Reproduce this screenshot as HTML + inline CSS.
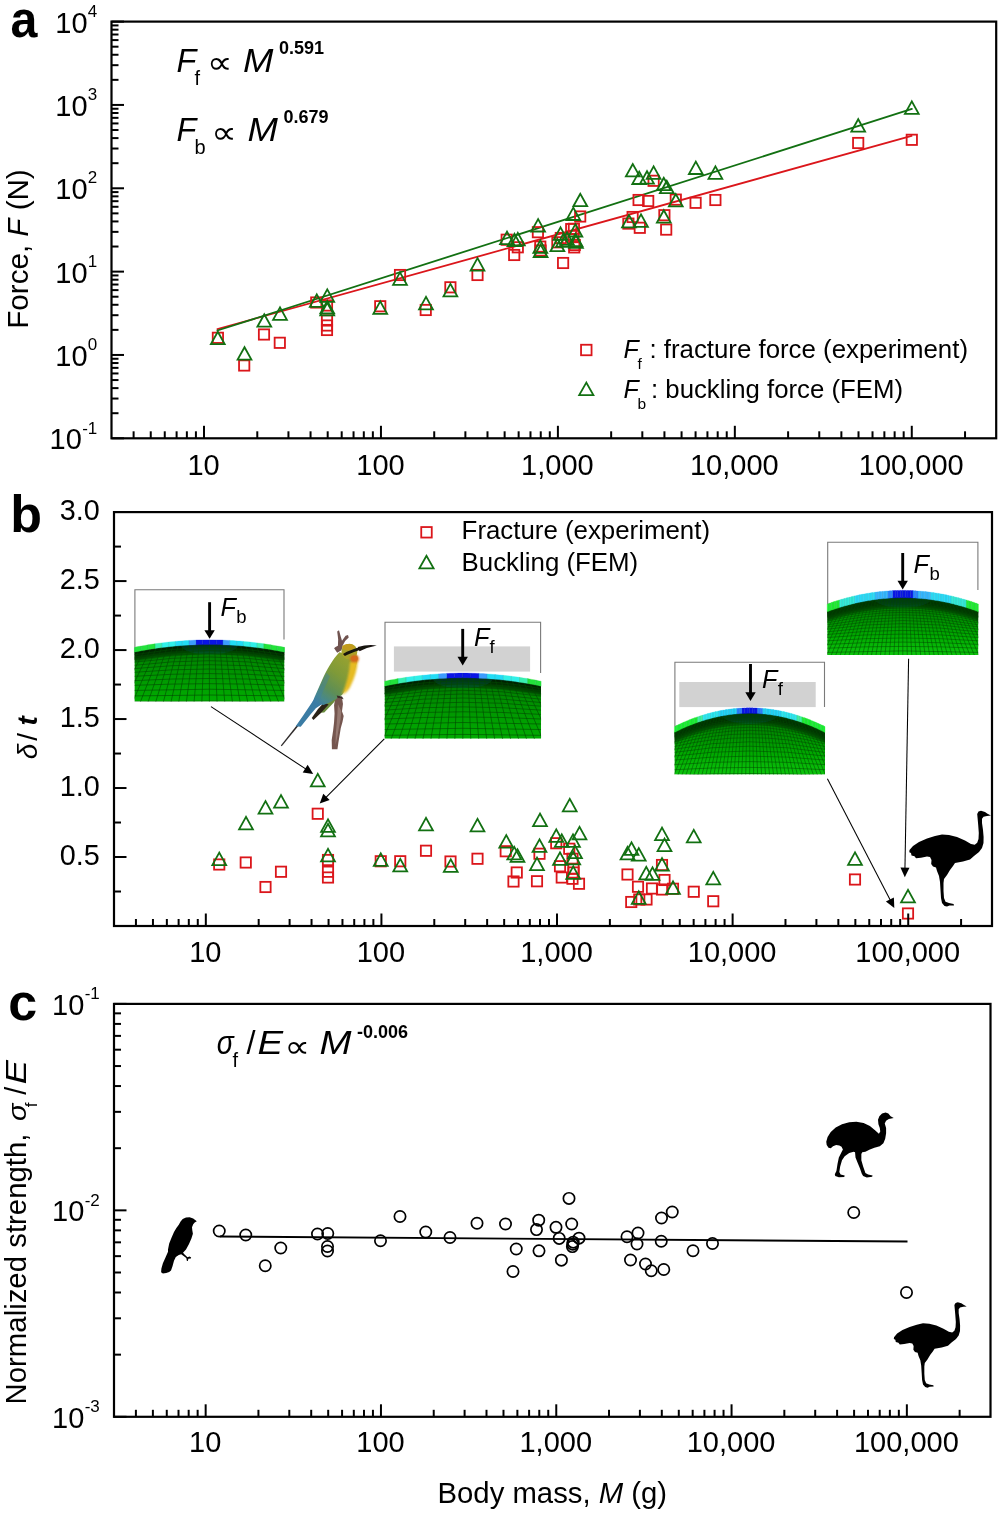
<!DOCTYPE html>
<html lang="en"><head><meta charset="utf-8"><title>Eggshell scaling figure</title>
<style>html,body{margin:0;padding:0;background:#fff}svg{display:block;will-change:transform}text{font-family:"Liberation Sans", "DejaVu Sans", sans-serif;fill:#000}.i{font-style:italic}.b{font-weight:bold}</style>
</head><body>
<svg width="1000" height="1514" viewBox="0 0 1000 1514">
<rect width="1000" height="1514" fill="#fff"/>
<g id="panelA">
<line x1="217.4" y1="329.1" x2="911.6" y2="135.9" stroke="#db161b" stroke-width="1.8" stroke-linecap="round"/>
<line x1="217.4" y1="330.5" x2="911.9" y2="108.9" stroke="#127012" stroke-width="1.8" stroke-linecap="round"/>
<rect x="212.75" y="332.65" width="10.3" height="10.3" fill="none" stroke="#db161b" stroke-width="1.8"/>
<rect x="239.05" y="360.35" width="10.3" height="10.3" fill="none" stroke="#db161b" stroke-width="1.8"/>
<rect x="258.85" y="329.35" width="10.3" height="10.3" fill="none" stroke="#db161b" stroke-width="1.8"/>
<rect x="274.65" y="337.65" width="10.3" height="10.3" fill="none" stroke="#db161b" stroke-width="1.8"/>
<rect x="311.10" y="297.35" width="10.3" height="10.3" fill="none" stroke="#db161b" stroke-width="1.8"/>
<rect x="321.85" y="300.35" width="10.3" height="10.3" fill="none" stroke="#db161b" stroke-width="1.8"/>
<rect x="321.85" y="315.35" width="10.3" height="10.3" fill="none" stroke="#db161b" stroke-width="1.8"/>
<rect x="321.85" y="320.35" width="10.3" height="10.3" fill="none" stroke="#db161b" stroke-width="1.8"/>
<rect x="321.85" y="324.85" width="10.3" height="10.3" fill="none" stroke="#db161b" stroke-width="1.8"/>
<rect x="375.10" y="301.10" width="10.3" height="10.3" fill="none" stroke="#db161b" stroke-width="1.8"/>
<rect x="394.85" y="269.85" width="10.3" height="10.3" fill="none" stroke="#db161b" stroke-width="1.8"/>
<rect x="420.60" y="304.85" width="10.3" height="10.3" fill="none" stroke="#db161b" stroke-width="1.8"/>
<rect x="445.25" y="282.15" width="10.3" height="10.3" fill="none" stroke="#db161b" stroke-width="1.8"/>
<rect x="472.35" y="269.85" width="10.3" height="10.3" fill="none" stroke="#db161b" stroke-width="1.8"/>
<rect x="501.55" y="234.55" width="10.3" height="10.3" fill="none" stroke="#db161b" stroke-width="1.8"/>
<rect x="509.05" y="249.85" width="10.3" height="10.3" fill="none" stroke="#db161b" stroke-width="1.8"/>
<rect x="512.65" y="242.15" width="10.3" height="10.3" fill="none" stroke="#db161b" stroke-width="1.8"/>
<rect x="532.75" y="227.05" width="10.3" height="10.3" fill="none" stroke="#db161b" stroke-width="1.8"/>
<rect x="535.15" y="241.45" width="10.3" height="10.3" fill="none" stroke="#db161b" stroke-width="1.8"/>
<rect x="535.45" y="245.35" width="10.3" height="10.3" fill="none" stroke="#db161b" stroke-width="1.8"/>
<rect x="552.25" y="237.15" width="10.3" height="10.3" fill="none" stroke="#db161b" stroke-width="1.8"/>
<rect x="555.65" y="232.85" width="10.3" height="10.3" fill="none" stroke="#db161b" stroke-width="1.8"/>
<rect x="557.95" y="257.85" width="10.3" height="10.3" fill="none" stroke="#db161b" stroke-width="1.8"/>
<rect x="566.05" y="223.95" width="10.3" height="10.3" fill="none" stroke="#db161b" stroke-width="1.8"/>
<rect x="568.75" y="223.65" width="10.3" height="10.3" fill="none" stroke="#db161b" stroke-width="1.8"/>
<rect x="569.05" y="242.25" width="10.3" height="10.3" fill="none" stroke="#db161b" stroke-width="1.8"/>
<rect x="569.65" y="239.85" width="10.3" height="10.3" fill="none" stroke="#db161b" stroke-width="1.8"/>
<rect x="575.05" y="211.35" width="10.3" height="10.3" fill="none" stroke="#db161b" stroke-width="1.8"/>
<rect x="568.35" y="230.85" width="10.3" height="10.3" fill="none" stroke="#db161b" stroke-width="1.8"/>
<rect x="623.25" y="218.45" width="10.3" height="10.3" fill="none" stroke="#db161b" stroke-width="1.8"/>
<rect x="627.45" y="211.85" width="10.3" height="10.3" fill="none" stroke="#db161b" stroke-width="1.8"/>
<rect x="634.65" y="222.65" width="10.3" height="10.3" fill="none" stroke="#db161b" stroke-width="1.8"/>
<rect x="633.45" y="194.85" width="10.3" height="10.3" fill="none" stroke="#db161b" stroke-width="1.8"/>
<rect x="643.05" y="195.85" width="10.3" height="10.3" fill="none" stroke="#db161b" stroke-width="1.8"/>
<rect x="648.45" y="175.65" width="10.3" height="10.3" fill="none" stroke="#db161b" stroke-width="1.8"/>
<rect x="659.25" y="210.05" width="10.3" height="10.3" fill="none" stroke="#db161b" stroke-width="1.8"/>
<rect x="661.05" y="224.45" width="10.3" height="10.3" fill="none" stroke="#db161b" stroke-width="1.8"/>
<rect x="670.65" y="194.45" width="10.3" height="10.3" fill="none" stroke="#db161b" stroke-width="1.8"/>
<rect x="690.45" y="197.65" width="10.3" height="10.3" fill="none" stroke="#db161b" stroke-width="1.8"/>
<rect x="710.25" y="194.85" width="10.3" height="10.3" fill="none" stroke="#db161b" stroke-width="1.8"/>
<rect x="853.05" y="137.85" width="10.3" height="10.3" fill="none" stroke="#db161b" stroke-width="1.8"/>
<rect x="906.65" y="134.65" width="10.3" height="10.3" fill="none" stroke="#db161b" stroke-width="1.8"/>
<path d="M217.80 331.70L210.90 344.10L224.70 344.10Z" fill="none" stroke="#127012" stroke-width="1.8" stroke-linejoin="miter"/>
<path d="M244.50 347.20L237.60 359.60L251.40 359.60Z" fill="none" stroke="#127012" stroke-width="1.8" stroke-linejoin="miter"/>
<path d="M264.30 314.30L257.40 326.70L271.20 326.70Z" fill="none" stroke="#127012" stroke-width="1.8" stroke-linejoin="miter"/>
<path d="M280.00 307.40L273.10 319.80L286.90 319.80Z" fill="none" stroke="#127012" stroke-width="1.8" stroke-linejoin="miter"/>
<path d="M316.75 294.40L309.85 306.80L323.65 306.80Z" fill="none" stroke="#127012" stroke-width="1.8" stroke-linejoin="miter"/>
<path d="M327.25 289.40L320.35 301.80L334.15 301.80Z" fill="none" stroke="#127012" stroke-width="1.8" stroke-linejoin="miter"/>
<path d="M327.25 300.90L320.35 313.30L334.15 313.30Z" fill="none" stroke="#127012" stroke-width="1.8" stroke-linejoin="miter"/>
<path d="M327.25 302.90L320.35 315.30L334.15 315.30Z" fill="none" stroke="#127012" stroke-width="1.8" stroke-linejoin="miter"/>
<path d="M380.25 301.40L373.35 313.80L387.15 313.80Z" fill="none" stroke="#127012" stroke-width="1.8" stroke-linejoin="miter"/>
<path d="M400.00 272.40L393.10 284.80L406.90 284.80Z" fill="none" stroke="#127012" stroke-width="1.8" stroke-linejoin="miter"/>
<path d="M426.00 296.90L419.10 309.30L432.90 309.30Z" fill="none" stroke="#127012" stroke-width="1.8" stroke-linejoin="miter"/>
<path d="M450.40 283.90L443.50 296.30L457.30 296.30Z" fill="none" stroke="#127012" stroke-width="1.8" stroke-linejoin="miter"/>
<path d="M477.50 258.15L470.60 270.55L484.40 270.55Z" fill="none" stroke="#127012" stroke-width="1.8" stroke-linejoin="miter"/>
<path d="M507.00 231.70L500.10 244.10L513.90 244.10Z" fill="none" stroke="#127012" stroke-width="1.8" stroke-linejoin="miter"/>
<path d="M514.50 233.80L507.60 246.20L521.40 246.20Z" fill="none" stroke="#127012" stroke-width="1.8" stroke-linejoin="miter"/>
<path d="M517.80 232.90L510.90 245.30L524.70 245.30Z" fill="none" stroke="#127012" stroke-width="1.8" stroke-linejoin="miter"/>
<path d="M538.10 219.10L531.20 231.50L545.00 231.50Z" fill="none" stroke="#127012" stroke-width="1.8" stroke-linejoin="miter"/>
<path d="M540.30 240.40L533.40 252.80L547.20 252.80Z" fill="none" stroke="#127012" stroke-width="1.8" stroke-linejoin="miter"/>
<path d="M540.60 244.60L533.70 257.00L547.50 257.00Z" fill="none" stroke="#127012" stroke-width="1.8" stroke-linejoin="miter"/>
<path d="M557.40 238.80L550.50 251.20L564.30 251.20Z" fill="none" stroke="#127012" stroke-width="1.8" stroke-linejoin="miter"/>
<path d="M560.50 227.40L553.60 239.80L567.40 239.80Z" fill="none" stroke="#127012" stroke-width="1.8" stroke-linejoin="miter"/>
<path d="M563.00 234.40L556.10 246.80L569.90 246.80Z" fill="none" stroke="#127012" stroke-width="1.8" stroke-linejoin="miter"/>
<path d="M573.30 207.60L566.40 220.00L580.20 220.00Z" fill="none" stroke="#127012" stroke-width="1.8" stroke-linejoin="miter"/>
<path d="M575.40 224.10L568.50 236.50L582.30 236.50Z" fill="none" stroke="#127012" stroke-width="1.8" stroke-linejoin="miter"/>
<path d="M575.40 233.70L568.50 246.10L582.30 246.10Z" fill="none" stroke="#127012" stroke-width="1.8" stroke-linejoin="miter"/>
<path d="M576.00 235.40L569.10 247.80L582.90 247.80Z" fill="none" stroke="#127012" stroke-width="1.8" stroke-linejoin="miter"/>
<path d="M567.00 232.40L560.10 244.80L573.90 244.80Z" fill="none" stroke="#127012" stroke-width="1.8" stroke-linejoin="miter"/>
<path d="M580.30 193.80L573.40 206.20L587.20 206.20Z" fill="none" stroke="#127012" stroke-width="1.8" stroke-linejoin="miter"/>
<path d="M632.80 164.00L625.90 176.40L639.70 176.40Z" fill="none" stroke="#127012" stroke-width="1.8" stroke-linejoin="miter"/>
<path d="M639.20 171.60L632.30 184.00L646.10 184.00Z" fill="none" stroke="#127012" stroke-width="1.8" stroke-linejoin="miter"/>
<path d="M647.00 171.20L640.10 183.60L653.90 183.60Z" fill="none" stroke="#127012" stroke-width="1.8" stroke-linejoin="miter"/>
<path d="M653.60 166.40L646.70 178.80L660.50 178.80Z" fill="none" stroke="#127012" stroke-width="1.8" stroke-linejoin="miter"/>
<path d="M663.80 177.80L656.90 190.20L670.70 190.20Z" fill="none" stroke="#127012" stroke-width="1.8" stroke-linejoin="miter"/>
<path d="M666.80 180.80L659.90 193.20L673.70 193.20Z" fill="none" stroke="#127012" stroke-width="1.8" stroke-linejoin="miter"/>
<path d="M675.80 194.00L668.90 206.40L682.70 206.40Z" fill="none" stroke="#127012" stroke-width="1.8" stroke-linejoin="miter"/>
<path d="M629.00 215.00L622.10 227.40L635.90 227.40Z" fill="none" stroke="#127012" stroke-width="1.8" stroke-linejoin="miter"/>
<path d="M641.00 214.40L634.10 226.80L647.90 226.80Z" fill="none" stroke="#127012" stroke-width="1.8" stroke-linejoin="miter"/>
<path d="M663.80 210.20L656.90 222.60L670.70 222.60Z" fill="none" stroke="#127012" stroke-width="1.8" stroke-linejoin="miter"/>
<path d="M695.80 161.60L688.90 174.00L702.70 174.00Z" fill="none" stroke="#127012" stroke-width="1.8" stroke-linejoin="miter"/>
<path d="M715.40 166.40L708.50 178.80L722.30 178.80Z" fill="none" stroke="#127012" stroke-width="1.8" stroke-linejoin="miter"/>
<path d="M858.20 119.20L851.30 131.60L865.10 131.60Z" fill="none" stroke="#127012" stroke-width="1.8" stroke-linejoin="miter"/>
<path d="M911.80 101.40L904.90 113.80L918.70 113.80Z" fill="none" stroke="#127012" stroke-width="1.8" stroke-linejoin="miter"/>
<rect x="111.5" y="21.6" width="884.70" height="416.70" fill="none" stroke="#000" stroke-width="2.2"/>
<line x1="133.61" y1="438.3" x2="133.61" y2="431.30" stroke="#000" stroke-width="2.0"/>
<line x1="150.75" y1="438.3" x2="150.75" y2="431.30" stroke="#000" stroke-width="2.0"/>
<line x1="164.76" y1="438.3" x2="164.76" y2="431.30" stroke="#000" stroke-width="2.0"/>
<line x1="176.61" y1="438.3" x2="176.61" y2="431.30" stroke="#000" stroke-width="2.0"/>
<line x1="186.87" y1="438.3" x2="186.87" y2="431.30" stroke="#000" stroke-width="2.0"/>
<line x1="195.92" y1="438.3" x2="195.92" y2="431.30" stroke="#000" stroke-width="2.0"/>
<line x1="204.02" y1="438.3" x2="204.02" y2="425.80" stroke="#000" stroke-width="2.0"/>
<line x1="257.28" y1="438.3" x2="257.28" y2="431.30" stroke="#000" stroke-width="2.0"/>
<line x1="288.44" y1="438.3" x2="288.44" y2="431.30" stroke="#000" stroke-width="2.0"/>
<line x1="310.55" y1="438.3" x2="310.55" y2="431.30" stroke="#000" stroke-width="2.0"/>
<line x1="327.69" y1="438.3" x2="327.69" y2="431.30" stroke="#000" stroke-width="2.0"/>
<line x1="341.70" y1="438.3" x2="341.70" y2="431.30" stroke="#000" stroke-width="2.0"/>
<line x1="353.55" y1="438.3" x2="353.55" y2="431.30" stroke="#000" stroke-width="2.0"/>
<line x1="363.81" y1="438.3" x2="363.81" y2="431.30" stroke="#000" stroke-width="2.0"/>
<line x1="372.86" y1="438.3" x2="372.86" y2="431.30" stroke="#000" stroke-width="2.0"/>
<line x1="380.96" y1="438.3" x2="380.96" y2="425.80" stroke="#000" stroke-width="2.0"/>
<line x1="434.22" y1="438.3" x2="434.22" y2="431.30" stroke="#000" stroke-width="2.0"/>
<line x1="465.38" y1="438.3" x2="465.38" y2="431.30" stroke="#000" stroke-width="2.0"/>
<line x1="487.49" y1="438.3" x2="487.49" y2="431.30" stroke="#000" stroke-width="2.0"/>
<line x1="504.63" y1="438.3" x2="504.63" y2="431.30" stroke="#000" stroke-width="2.0"/>
<line x1="518.64" y1="438.3" x2="518.64" y2="431.30" stroke="#000" stroke-width="2.0"/>
<line x1="530.49" y1="438.3" x2="530.49" y2="431.30" stroke="#000" stroke-width="2.0"/>
<line x1="540.75" y1="438.3" x2="540.75" y2="431.30" stroke="#000" stroke-width="2.0"/>
<line x1="549.80" y1="438.3" x2="549.80" y2="431.30" stroke="#000" stroke-width="2.0"/>
<line x1="557.90" y1="438.3" x2="557.90" y2="425.80" stroke="#000" stroke-width="2.0"/>
<line x1="611.16" y1="438.3" x2="611.16" y2="431.30" stroke="#000" stroke-width="2.0"/>
<line x1="642.32" y1="438.3" x2="642.32" y2="431.30" stroke="#000" stroke-width="2.0"/>
<line x1="664.43" y1="438.3" x2="664.43" y2="431.30" stroke="#000" stroke-width="2.0"/>
<line x1="681.57" y1="438.3" x2="681.57" y2="431.30" stroke="#000" stroke-width="2.0"/>
<line x1="695.58" y1="438.3" x2="695.58" y2="431.30" stroke="#000" stroke-width="2.0"/>
<line x1="707.43" y1="438.3" x2="707.43" y2="431.30" stroke="#000" stroke-width="2.0"/>
<line x1="717.69" y1="438.3" x2="717.69" y2="431.30" stroke="#000" stroke-width="2.0"/>
<line x1="726.74" y1="438.3" x2="726.74" y2="431.30" stroke="#000" stroke-width="2.0"/>
<line x1="734.84" y1="438.3" x2="734.84" y2="425.80" stroke="#000" stroke-width="2.0"/>
<line x1="788.10" y1="438.3" x2="788.10" y2="431.30" stroke="#000" stroke-width="2.0"/>
<line x1="819.26" y1="438.3" x2="819.26" y2="431.30" stroke="#000" stroke-width="2.0"/>
<line x1="841.37" y1="438.3" x2="841.37" y2="431.30" stroke="#000" stroke-width="2.0"/>
<line x1="858.51" y1="438.3" x2="858.51" y2="431.30" stroke="#000" stroke-width="2.0"/>
<line x1="872.52" y1="438.3" x2="872.52" y2="431.30" stroke="#000" stroke-width="2.0"/>
<line x1="884.37" y1="438.3" x2="884.37" y2="431.30" stroke="#000" stroke-width="2.0"/>
<line x1="894.63" y1="438.3" x2="894.63" y2="431.30" stroke="#000" stroke-width="2.0"/>
<line x1="903.68" y1="438.3" x2="903.68" y2="431.30" stroke="#000" stroke-width="2.0"/>
<line x1="911.78" y1="438.3" x2="911.78" y2="425.80" stroke="#000" stroke-width="2.0"/>
<line x1="965.04" y1="438.3" x2="965.04" y2="431.30" stroke="#000" stroke-width="2.0"/>
<text x="203.52" y="474.50" font-size="29" text-anchor="middle">10</text>
<text x="380.46" y="474.50" font-size="29" text-anchor="middle">100</text>
<text x="557.40" y="474.50" font-size="29" text-anchor="middle">1,000</text>
<text x="734.34" y="474.50" font-size="29" text-anchor="middle">10,000</text>
<text x="911.28" y="474.50" font-size="29" text-anchor="middle">100,000</text>
<line x1="111.5" y1="438.30" x2="124.00" y2="438.30" stroke="#000" stroke-width="2.0"/>
<line x1="111.5" y1="413.21" x2="118.50" y2="413.21" stroke="#000" stroke-width="2.0"/>
<line x1="111.5" y1="398.54" x2="118.50" y2="398.54" stroke="#000" stroke-width="2.0"/>
<line x1="111.5" y1="388.12" x2="118.50" y2="388.12" stroke="#000" stroke-width="2.0"/>
<line x1="111.5" y1="380.05" x2="118.50" y2="380.05" stroke="#000" stroke-width="2.0"/>
<line x1="111.5" y1="373.45" x2="118.50" y2="373.45" stroke="#000" stroke-width="2.0"/>
<line x1="111.5" y1="367.87" x2="118.50" y2="367.87" stroke="#000" stroke-width="2.0"/>
<line x1="111.5" y1="363.04" x2="118.50" y2="363.04" stroke="#000" stroke-width="2.0"/>
<line x1="111.5" y1="358.77" x2="118.50" y2="358.77" stroke="#000" stroke-width="2.0"/>
<text x="97.30" y="433.50" font-size="17" text-anchor="end">-1</text>
<text x="81.89" y="449.30" font-size="29" text-anchor="end">10</text>
<line x1="111.5" y1="354.96" x2="124.00" y2="354.96" stroke="#000" stroke-width="2.0"/>
<line x1="111.5" y1="329.87" x2="118.50" y2="329.87" stroke="#000" stroke-width="2.0"/>
<line x1="111.5" y1="315.20" x2="118.50" y2="315.20" stroke="#000" stroke-width="2.0"/>
<line x1="111.5" y1="304.78" x2="118.50" y2="304.78" stroke="#000" stroke-width="2.0"/>
<line x1="111.5" y1="296.71" x2="118.50" y2="296.71" stroke="#000" stroke-width="2.0"/>
<line x1="111.5" y1="290.11" x2="118.50" y2="290.11" stroke="#000" stroke-width="2.0"/>
<line x1="111.5" y1="284.53" x2="118.50" y2="284.53" stroke="#000" stroke-width="2.0"/>
<line x1="111.5" y1="279.70" x2="118.50" y2="279.70" stroke="#000" stroke-width="2.0"/>
<line x1="111.5" y1="275.43" x2="118.50" y2="275.43" stroke="#000" stroke-width="2.0"/>
<text x="97.30" y="350.16" font-size="17" text-anchor="end">0</text>
<text x="87.55" y="365.96" font-size="29" text-anchor="end">10</text>
<line x1="111.5" y1="271.62" x2="124.00" y2="271.62" stroke="#000" stroke-width="2.0"/>
<line x1="111.5" y1="246.53" x2="118.50" y2="246.53" stroke="#000" stroke-width="2.0"/>
<line x1="111.5" y1="231.86" x2="118.50" y2="231.86" stroke="#000" stroke-width="2.0"/>
<line x1="111.5" y1="221.44" x2="118.50" y2="221.44" stroke="#000" stroke-width="2.0"/>
<line x1="111.5" y1="213.37" x2="118.50" y2="213.37" stroke="#000" stroke-width="2.0"/>
<line x1="111.5" y1="206.77" x2="118.50" y2="206.77" stroke="#000" stroke-width="2.0"/>
<line x1="111.5" y1="201.19" x2="118.50" y2="201.19" stroke="#000" stroke-width="2.0"/>
<line x1="111.5" y1="196.36" x2="118.50" y2="196.36" stroke="#000" stroke-width="2.0"/>
<line x1="111.5" y1="192.09" x2="118.50" y2="192.09" stroke="#000" stroke-width="2.0"/>
<text x="97.30" y="266.82" font-size="17" text-anchor="end">1</text>
<text x="87.55" y="282.62" font-size="29" text-anchor="end">10</text>
<line x1="111.5" y1="188.28" x2="124.00" y2="188.28" stroke="#000" stroke-width="2.0"/>
<line x1="111.5" y1="163.19" x2="118.50" y2="163.19" stroke="#000" stroke-width="2.0"/>
<line x1="111.5" y1="148.52" x2="118.50" y2="148.52" stroke="#000" stroke-width="2.0"/>
<line x1="111.5" y1="138.10" x2="118.50" y2="138.10" stroke="#000" stroke-width="2.0"/>
<line x1="111.5" y1="130.03" x2="118.50" y2="130.03" stroke="#000" stroke-width="2.0"/>
<line x1="111.5" y1="123.43" x2="118.50" y2="123.43" stroke="#000" stroke-width="2.0"/>
<line x1="111.5" y1="117.85" x2="118.50" y2="117.85" stroke="#000" stroke-width="2.0"/>
<line x1="111.5" y1="113.02" x2="118.50" y2="113.02" stroke="#000" stroke-width="2.0"/>
<line x1="111.5" y1="108.75" x2="118.50" y2="108.75" stroke="#000" stroke-width="2.0"/>
<text x="97.30" y="183.48" font-size="17" text-anchor="end">2</text>
<text x="87.55" y="199.28" font-size="29" text-anchor="end">10</text>
<line x1="111.5" y1="104.94" x2="124.00" y2="104.94" stroke="#000" stroke-width="2.0"/>
<line x1="111.5" y1="79.85" x2="118.50" y2="79.85" stroke="#000" stroke-width="2.0"/>
<line x1="111.5" y1="65.18" x2="118.50" y2="65.18" stroke="#000" stroke-width="2.0"/>
<line x1="111.5" y1="54.76" x2="118.50" y2="54.76" stroke="#000" stroke-width="2.0"/>
<line x1="111.5" y1="46.69" x2="118.50" y2="46.69" stroke="#000" stroke-width="2.0"/>
<line x1="111.5" y1="40.09" x2="118.50" y2="40.09" stroke="#000" stroke-width="2.0"/>
<line x1="111.5" y1="34.51" x2="118.50" y2="34.51" stroke="#000" stroke-width="2.0"/>
<line x1="111.5" y1="29.68" x2="118.50" y2="29.68" stroke="#000" stroke-width="2.0"/>
<line x1="111.5" y1="25.41" x2="118.50" y2="25.41" stroke="#000" stroke-width="2.0"/>
<text x="97.30" y="100.14" font-size="17" text-anchor="end">3</text>
<text x="87.55" y="115.94" font-size="29" text-anchor="end">10</text>
<line x1="111.5" y1="21.60" x2="124.00" y2="21.60" stroke="#000" stroke-width="2.0"/>
<text x="97.30" y="16.80" font-size="17" text-anchor="end">4</text>
<text x="87.55" y="32.60" font-size="29" text-anchor="end">10</text>
<text transform="translate(28.4,249) rotate(-90)" font-size="29.6" text-anchor="middle">Force, <tspan class="i">F</tspan> (N)</text>
<text transform="translate(10.6,37.4) scale(0.93,1)" font-size="52" class="b">a</text>
<text x="176.5" y="72.1" font-size="32.4" class="i">F</text>
<text x="194.6" y="84.5" font-size="20">f</text>
<text transform="translate(206.9,73.3) scale(1.15,1)" font-size="31">∝</text>
<text x="243" y="72.1" font-size="32.4" class="i" textLength="30.4" lengthAdjust="spacingAndGlyphs">M</text>
<text x="279" y="53.99999999999999" font-size="18" class="b">0.591</text>
<text x="176.5" y="141.3" font-size="32.4" class="i">F</text>
<text x="194.6" y="153.70000000000002" font-size="20">b</text>
<text transform="translate(211.3,142.5) scale(1.15,1)" font-size="31">∝</text>
<text x="247.5" y="141.3" font-size="32.4" class="i" textLength="30.4" lengthAdjust="spacingAndGlyphs">M</text>
<text x="283.5" y="123.20000000000002" font-size="18" class="b">0.679</text>
<rect x="581.05" y="344.75" width="10.5" height="10.5" fill="none" stroke="#db161b" stroke-width="1.8"/>
<path d="M586.30 382.60L579.20 395.10L593.40 395.10Z" fill="none" stroke="#127012" stroke-width="1.8" stroke-linejoin="miter"/>
<text x="623.6" y="358.3" font-size="25"><tspan class="i">F</tspan></text><text x="637.6" y="368.6" font-size="15.5">f</text><text x="649.4" y="358.3" font-size="25" textLength="318.6" lengthAdjust="spacingAndGlyphs">: fracture force (experiment)</text>
<text x="623.6" y="398.2" font-size="25"><tspan class="i">F</tspan></text><text x="637.6" y="408.6" font-size="15.5">b</text><text x="651" y="398.2" font-size="25" textLength="252" lengthAdjust="spacingAndGlyphs">: buckling force (FEM)</text>
</g>
<g id="panelB">
<rect x="214.10" y="859.35" width="10.3" height="10.3" fill="none" stroke="#db161b" stroke-width="1.8"/>
<rect x="240.60" y="857.35" width="10.3" height="10.3" fill="none" stroke="#db161b" stroke-width="1.8"/>
<rect x="260.35" y="881.85" width="10.3" height="10.3" fill="none" stroke="#db161b" stroke-width="1.8"/>
<rect x="275.85" y="866.60" width="10.3" height="10.3" fill="none" stroke="#db161b" stroke-width="1.8"/>
<rect x="312.60" y="808.60" width="10.3" height="10.3" fill="none" stroke="#db161b" stroke-width="1.8"/>
<rect x="322.85" y="854.85" width="10.3" height="10.3" fill="none" stroke="#db161b" stroke-width="1.8"/>
<rect x="322.85" y="866.60" width="10.3" height="10.3" fill="none" stroke="#db161b" stroke-width="1.8"/>
<rect x="322.85" y="872.35" width="10.3" height="10.3" fill="none" stroke="#db161b" stroke-width="1.8"/>
<rect x="375.60" y="856.10" width="10.3" height="10.3" fill="none" stroke="#db161b" stroke-width="1.8"/>
<rect x="395.10" y="856.10" width="10.3" height="10.3" fill="none" stroke="#db161b" stroke-width="1.8"/>
<rect x="420.85" y="845.60" width="10.3" height="10.3" fill="none" stroke="#db161b" stroke-width="1.8"/>
<rect x="445.35" y="856.35" width="10.3" height="10.3" fill="none" stroke="#db161b" stroke-width="1.8"/>
<rect x="472.35" y="853.60" width="10.3" height="10.3" fill="none" stroke="#db161b" stroke-width="1.8"/>
<rect x="500.60" y="846.10" width="10.3" height="10.3" fill="none" stroke="#db161b" stroke-width="1.8"/>
<rect x="508.35" y="876.35" width="10.3" height="10.3" fill="none" stroke="#db161b" stroke-width="1.8"/>
<rect x="511.60" y="867.35" width="10.3" height="10.3" fill="none" stroke="#db161b" stroke-width="1.8"/>
<rect x="531.85" y="876.10" width="10.3" height="10.3" fill="none" stroke="#db161b" stroke-width="1.8"/>
<rect x="534.35" y="848.60" width="10.3" height="10.3" fill="none" stroke="#db161b" stroke-width="1.8"/>
<rect x="551.10" y="838.10" width="10.3" height="10.3" fill="none" stroke="#db161b" stroke-width="1.8"/>
<rect x="554.85" y="861.10" width="10.3" height="10.3" fill="none" stroke="#db161b" stroke-width="1.8"/>
<rect x="556.60" y="872.35" width="10.3" height="10.3" fill="none" stroke="#db161b" stroke-width="1.8"/>
<rect x="564.10" y="843.60" width="10.3" height="10.3" fill="none" stroke="#db161b" stroke-width="1.8"/>
<rect x="567.35" y="853.60" width="10.3" height="10.3" fill="none" stroke="#db161b" stroke-width="1.8"/>
<rect x="568.35" y="863.60" width="10.3" height="10.3" fill="none" stroke="#db161b" stroke-width="1.8"/>
<rect x="568.35" y="867.35" width="10.3" height="10.3" fill="none" stroke="#db161b" stroke-width="1.8"/>
<rect x="567.35" y="873.60" width="10.3" height="10.3" fill="none" stroke="#db161b" stroke-width="1.8"/>
<rect x="573.85" y="878.60" width="10.3" height="10.3" fill="none" stroke="#db161b" stroke-width="1.8"/>
<rect x="622.35" y="869.35" width="10.3" height="10.3" fill="none" stroke="#db161b" stroke-width="1.8"/>
<rect x="626.10" y="896.85" width="10.3" height="10.3" fill="none" stroke="#db161b" stroke-width="1.8"/>
<rect x="632.85" y="881.60" width="10.3" height="10.3" fill="none" stroke="#db161b" stroke-width="1.8"/>
<rect x="634.10" y="894.35" width="10.3" height="10.3" fill="none" stroke="#db161b" stroke-width="1.8"/>
<rect x="641.35" y="894.35" width="10.3" height="10.3" fill="none" stroke="#db161b" stroke-width="1.8"/>
<rect x="646.85" y="883.35" width="10.3" height="10.3" fill="none" stroke="#db161b" stroke-width="1.8"/>
<rect x="656.85" y="859.85" width="10.3" height="10.3" fill="none" stroke="#db161b" stroke-width="1.8"/>
<rect x="656.85" y="884.35" width="10.3" height="10.3" fill="none" stroke="#db161b" stroke-width="1.8"/>
<rect x="659.35" y="874.85" width="10.3" height="10.3" fill="none" stroke="#db161b" stroke-width="1.8"/>
<rect x="667.85" y="883.60" width="10.3" height="10.3" fill="none" stroke="#db161b" stroke-width="1.8"/>
<rect x="688.60" y="886.60" width="10.3" height="10.3" fill="none" stroke="#db161b" stroke-width="1.8"/>
<rect x="708.10" y="896.10" width="10.3" height="10.3" fill="none" stroke="#db161b" stroke-width="1.8"/>
<rect x="849.85" y="874.35" width="10.3" height="10.3" fill="none" stroke="#db161b" stroke-width="1.8"/>
<rect x="902.85" y="908.35" width="10.3" height="10.3" fill="none" stroke="#db161b" stroke-width="1.8"/>
<path d="M219.25 852.65L212.35 865.05L226.15 865.05Z" fill="none" stroke="#127012" stroke-width="1.8" stroke-linejoin="miter"/>
<path d="M246.00 816.90L239.10 829.30L252.90 829.30Z" fill="none" stroke="#127012" stroke-width="1.8" stroke-linejoin="miter"/>
<path d="M265.50 801.15L258.60 813.55L272.40 813.55Z" fill="none" stroke="#127012" stroke-width="1.8" stroke-linejoin="miter"/>
<path d="M281.00 795.15L274.10 807.55L287.90 807.55Z" fill="none" stroke="#127012" stroke-width="1.8" stroke-linejoin="miter"/>
<path d="M317.75 773.90L310.85 786.30L324.65 786.30Z" fill="none" stroke="#127012" stroke-width="1.8" stroke-linejoin="miter"/>
<path d="M328.00 819.40L321.10 831.80L334.90 831.80Z" fill="none" stroke="#127012" stroke-width="1.8" stroke-linejoin="miter"/>
<path d="M328.00 823.90L321.10 836.30L334.90 836.30Z" fill="none" stroke="#127012" stroke-width="1.8" stroke-linejoin="miter"/>
<path d="M328.00 848.90L321.10 861.30L334.90 861.30Z" fill="none" stroke="#127012" stroke-width="1.8" stroke-linejoin="miter"/>
<path d="M380.75 853.40L373.85 865.80L387.65 865.80Z" fill="none" stroke="#127012" stroke-width="1.8" stroke-linejoin="miter"/>
<path d="M400.25 858.90L393.35 871.30L407.15 871.30Z" fill="none" stroke="#127012" stroke-width="1.8" stroke-linejoin="miter"/>
<path d="M426.00 817.90L419.10 830.30L432.90 830.30Z" fill="none" stroke="#127012" stroke-width="1.8" stroke-linejoin="miter"/>
<path d="M450.75 859.40L443.85 871.80L457.65 871.80Z" fill="none" stroke="#127012" stroke-width="1.8" stroke-linejoin="miter"/>
<path d="M477.50 818.90L470.60 831.30L484.40 831.30Z" fill="none" stroke="#127012" stroke-width="1.8" stroke-linejoin="miter"/>
<path d="M506.25 835.15L499.35 847.55L513.15 847.55Z" fill="none" stroke="#127012" stroke-width="1.8" stroke-linejoin="miter"/>
<path d="M514.25 846.90L507.35 859.30L521.15 859.30Z" fill="none" stroke="#127012" stroke-width="1.8" stroke-linejoin="miter"/>
<path d="M517.50 849.40L510.60 861.80L524.40 861.80Z" fill="none" stroke="#127012" stroke-width="1.8" stroke-linejoin="miter"/>
<path d="M537.00 857.65L530.10 870.05L543.90 870.05Z" fill="none" stroke="#127012" stroke-width="1.8" stroke-linejoin="miter"/>
<path d="M539.50 839.40L532.60 851.80L546.40 851.80Z" fill="none" stroke="#127012" stroke-width="1.8" stroke-linejoin="miter"/>
<path d="M540.00 813.65L533.10 826.05L546.90 826.05Z" fill="none" stroke="#127012" stroke-width="1.8" stroke-linejoin="miter"/>
<path d="M556.25 829.40L549.35 841.80L563.15 841.80Z" fill="none" stroke="#127012" stroke-width="1.8" stroke-linejoin="miter"/>
<path d="M560.00 852.40L553.10 864.80L566.90 864.80Z" fill="none" stroke="#127012" stroke-width="1.8" stroke-linejoin="miter"/>
<path d="M561.75 834.40L554.85 846.80L568.65 846.80Z" fill="none" stroke="#127012" stroke-width="1.8" stroke-linejoin="miter"/>
<path d="M569.75 798.90L562.85 811.30L576.65 811.30Z" fill="none" stroke="#127012" stroke-width="1.8" stroke-linejoin="miter"/>
<path d="M573.00 834.40L566.10 846.80L579.90 846.80Z" fill="none" stroke="#127012" stroke-width="1.8" stroke-linejoin="miter"/>
<path d="M579.50 826.90L572.60 839.30L586.40 839.30Z" fill="none" stroke="#127012" stroke-width="1.8" stroke-linejoin="miter"/>
<path d="M575.00 845.65L568.10 858.05L581.90 858.05Z" fill="none" stroke="#127012" stroke-width="1.8" stroke-linejoin="miter"/>
<path d="M573.25 851.90L566.35 864.30L580.15 864.30Z" fill="none" stroke="#127012" stroke-width="1.8" stroke-linejoin="miter"/>
<path d="M573.25 866.40L566.35 878.80L580.15 878.80Z" fill="none" stroke="#127012" stroke-width="1.8" stroke-linejoin="miter"/>
<path d="M627.50 846.90L620.60 859.30L634.40 859.30Z" fill="none" stroke="#127012" stroke-width="1.8" stroke-linejoin="miter"/>
<path d="M631.50 842.40L624.60 854.80L638.40 854.80Z" fill="none" stroke="#127012" stroke-width="1.8" stroke-linejoin="miter"/>
<path d="M638.75 848.15L631.85 860.55L645.65 860.55Z" fill="none" stroke="#127012" stroke-width="1.8" stroke-linejoin="miter"/>
<path d="M638.75 891.40L631.85 903.80L645.65 903.80Z" fill="none" stroke="#127012" stroke-width="1.8" stroke-linejoin="miter"/>
<path d="M646.25 866.90L639.35 879.30L653.15 879.30Z" fill="none" stroke="#127012" stroke-width="1.8" stroke-linejoin="miter"/>
<path d="M652.50 867.40L645.60 879.80L659.40 879.80Z" fill="none" stroke="#127012" stroke-width="1.8" stroke-linejoin="miter"/>
<path d="M662.00 827.65L655.10 840.05L668.90 840.05Z" fill="none" stroke="#127012" stroke-width="1.8" stroke-linejoin="miter"/>
<path d="M662.00 858.15L655.10 870.55L668.90 870.55Z" fill="none" stroke="#127012" stroke-width="1.8" stroke-linejoin="miter"/>
<path d="M664.50 838.65L657.60 851.05L671.40 851.05Z" fill="none" stroke="#127012" stroke-width="1.8" stroke-linejoin="miter"/>
<path d="M673.00 881.40L666.10 893.80L679.90 893.80Z" fill="none" stroke="#127012" stroke-width="1.8" stroke-linejoin="miter"/>
<path d="M693.75 829.90L686.85 842.30L700.65 842.30Z" fill="none" stroke="#127012" stroke-width="1.8" stroke-linejoin="miter"/>
<path d="M713.25 871.90L706.35 884.30L720.15 884.30Z" fill="none" stroke="#127012" stroke-width="1.8" stroke-linejoin="miter"/>
<path d="M855.00 852.40L848.10 864.80L861.90 864.80Z" fill="none" stroke="#127012" stroke-width="1.8" stroke-linejoin="miter"/>
<path d="M908.00 889.90L901.10 902.30L914.90 902.30Z" fill="none" stroke="#127012" stroke-width="1.8" stroke-linejoin="miter"/>
<rect x="114.0" y="512.1" width="878.00" height="413.90" fill="none" stroke="#000" stroke-width="2.2"/>
<line x1="135.94" y1="926.0" x2="135.94" y2="919.00" stroke="#000" stroke-width="2.0"/>
<line x1="152.96" y1="926.0" x2="152.96" y2="919.00" stroke="#000" stroke-width="2.0"/>
<line x1="166.86" y1="926.0" x2="166.86" y2="919.00" stroke="#000" stroke-width="2.0"/>
<line x1="178.62" y1="926.0" x2="178.62" y2="919.00" stroke="#000" stroke-width="2.0"/>
<line x1="188.80" y1="926.0" x2="188.80" y2="919.00" stroke="#000" stroke-width="2.0"/>
<line x1="197.78" y1="926.0" x2="197.78" y2="919.00" stroke="#000" stroke-width="2.0"/>
<line x1="205.82" y1="926.0" x2="205.82" y2="913.50" stroke="#000" stroke-width="2.0"/>
<line x1="258.68" y1="926.0" x2="258.68" y2="919.00" stroke="#000" stroke-width="2.0"/>
<line x1="289.60" y1="926.0" x2="289.60" y2="919.00" stroke="#000" stroke-width="2.0"/>
<line x1="311.54" y1="926.0" x2="311.54" y2="919.00" stroke="#000" stroke-width="2.0"/>
<line x1="328.56" y1="926.0" x2="328.56" y2="919.00" stroke="#000" stroke-width="2.0"/>
<line x1="342.46" y1="926.0" x2="342.46" y2="919.00" stroke="#000" stroke-width="2.0"/>
<line x1="354.22" y1="926.0" x2="354.22" y2="919.00" stroke="#000" stroke-width="2.0"/>
<line x1="364.40" y1="926.0" x2="364.40" y2="919.00" stroke="#000" stroke-width="2.0"/>
<line x1="373.38" y1="926.0" x2="373.38" y2="919.00" stroke="#000" stroke-width="2.0"/>
<line x1="381.42" y1="926.0" x2="381.42" y2="913.50" stroke="#000" stroke-width="2.0"/>
<line x1="434.28" y1="926.0" x2="434.28" y2="919.00" stroke="#000" stroke-width="2.0"/>
<line x1="465.20" y1="926.0" x2="465.20" y2="919.00" stroke="#000" stroke-width="2.0"/>
<line x1="487.14" y1="926.0" x2="487.14" y2="919.00" stroke="#000" stroke-width="2.0"/>
<line x1="504.16" y1="926.0" x2="504.16" y2="919.00" stroke="#000" stroke-width="2.0"/>
<line x1="518.06" y1="926.0" x2="518.06" y2="919.00" stroke="#000" stroke-width="2.0"/>
<line x1="529.82" y1="926.0" x2="529.82" y2="919.00" stroke="#000" stroke-width="2.0"/>
<line x1="540.00" y1="926.0" x2="540.00" y2="919.00" stroke="#000" stroke-width="2.0"/>
<line x1="548.98" y1="926.0" x2="548.98" y2="919.00" stroke="#000" stroke-width="2.0"/>
<line x1="557.02" y1="926.0" x2="557.02" y2="913.50" stroke="#000" stroke-width="2.0"/>
<line x1="609.88" y1="926.0" x2="609.88" y2="919.00" stroke="#000" stroke-width="2.0"/>
<line x1="640.80" y1="926.0" x2="640.80" y2="919.00" stroke="#000" stroke-width="2.0"/>
<line x1="662.74" y1="926.0" x2="662.74" y2="919.00" stroke="#000" stroke-width="2.0"/>
<line x1="679.76" y1="926.0" x2="679.76" y2="919.00" stroke="#000" stroke-width="2.0"/>
<line x1="693.66" y1="926.0" x2="693.66" y2="919.00" stroke="#000" stroke-width="2.0"/>
<line x1="705.42" y1="926.0" x2="705.42" y2="919.00" stroke="#000" stroke-width="2.0"/>
<line x1="715.60" y1="926.0" x2="715.60" y2="919.00" stroke="#000" stroke-width="2.0"/>
<line x1="724.58" y1="926.0" x2="724.58" y2="919.00" stroke="#000" stroke-width="2.0"/>
<line x1="732.62" y1="926.0" x2="732.62" y2="913.50" stroke="#000" stroke-width="2.0"/>
<line x1="785.48" y1="926.0" x2="785.48" y2="919.00" stroke="#000" stroke-width="2.0"/>
<line x1="816.40" y1="926.0" x2="816.40" y2="919.00" stroke="#000" stroke-width="2.0"/>
<line x1="838.34" y1="926.0" x2="838.34" y2="919.00" stroke="#000" stroke-width="2.0"/>
<line x1="855.36" y1="926.0" x2="855.36" y2="919.00" stroke="#000" stroke-width="2.0"/>
<line x1="869.26" y1="926.0" x2="869.26" y2="919.00" stroke="#000" stroke-width="2.0"/>
<line x1="881.02" y1="926.0" x2="881.02" y2="919.00" stroke="#000" stroke-width="2.0"/>
<line x1="891.20" y1="926.0" x2="891.20" y2="919.00" stroke="#000" stroke-width="2.0"/>
<line x1="900.18" y1="926.0" x2="900.18" y2="919.00" stroke="#000" stroke-width="2.0"/>
<line x1="908.22" y1="926.0" x2="908.22" y2="913.50" stroke="#000" stroke-width="2.0"/>
<line x1="961.08" y1="926.0" x2="961.08" y2="919.00" stroke="#000" stroke-width="2.0"/>
<text x="205.32" y="962.20" font-size="29" text-anchor="middle">10</text>
<text x="380.92" y="962.20" font-size="29" text-anchor="middle">100</text>
<text x="556.52" y="962.20" font-size="29" text-anchor="middle">1,000</text>
<text x="732.12" y="962.20" font-size="29" text-anchor="middle">10,000</text>
<text x="907.72" y="962.20" font-size="29" text-anchor="middle">100,000</text>
<line x1="114.0" y1="891.51" x2="121.00" y2="891.51" stroke="#000" stroke-width="2.0"/>
<line x1="114.0" y1="857.02" x2="126.50" y2="857.02" stroke="#000" stroke-width="2.0"/>
<line x1="114.0" y1="822.52" x2="121.00" y2="822.52" stroke="#000" stroke-width="2.0"/>
<line x1="114.0" y1="788.03" x2="126.50" y2="788.03" stroke="#000" stroke-width="2.0"/>
<line x1="114.0" y1="753.54" x2="121.00" y2="753.54" stroke="#000" stroke-width="2.0"/>
<line x1="114.0" y1="719.05" x2="126.50" y2="719.05" stroke="#000" stroke-width="2.0"/>
<line x1="114.0" y1="684.56" x2="121.00" y2="684.56" stroke="#000" stroke-width="2.0"/>
<line x1="114.0" y1="650.07" x2="126.50" y2="650.07" stroke="#000" stroke-width="2.0"/>
<line x1="114.0" y1="615.58" x2="121.00" y2="615.58" stroke="#000" stroke-width="2.0"/>
<line x1="114.0" y1="581.08" x2="126.50" y2="581.08" stroke="#000" stroke-width="2.0"/>
<line x1="114.0" y1="546.59" x2="121.00" y2="546.59" stroke="#000" stroke-width="2.0"/>
<text x="99.8" y="865.22" font-size="28.8" text-anchor="end">0.5</text>
<text x="99.8" y="796.23" font-size="28.8" text-anchor="end">1.0</text>
<text x="99.8" y="727.25" font-size="28.8" text-anchor="end">1.5</text>
<text x="99.8" y="658.27" font-size="28.8" text-anchor="end">2.0</text>
<text x="99.8" y="589.28" font-size="28.8" text-anchor="end">2.5</text>
<text x="99.8" y="520.30" font-size="28.8" text-anchor="end">3.0</text>
<g transform="translate(36.6,759.2) rotate(-90)"><text x="0" y="0" font-size="28" class="i">δ</text><text x="18.4" y="0" font-size="28">/</text><text x="33.8" y="0" font-size="28" class="i b">t</text></g>
<text x="10.2" y="531.6" font-size="52" class="b">b</text>
<rect x="421.25" y="527.05" width="10.5" height="10.5" fill="none" stroke="#db161b" stroke-width="1.8"/>
<path d="M426.50 555.80L419.40 568.30L433.60 568.30Z" fill="none" stroke="#127012" stroke-width="1.8" stroke-linejoin="miter"/>
<text x="461.6" y="539" font-size="25.4" textLength="248.4" lengthAdjust="spacingAndGlyphs">Fracture (experiment)</text>
<text x="461.6" y="571" font-size="25.4" textLength="176.6" lengthAdjust="spacingAndGlyphs">Buckling (FEM)</text>
<clipPath id="cl1"><polygon points="134.4,651.9 140.7,650.6 146.9,649.5 153.2,648.5 159.4,647.6 165.7,646.8 171.9,646.1 178.2,645.5 184.4,645.1 190.7,644.7 196.9,644.4 203.2,644.3 209.4,644.2 215.7,644.3 222.0,644.4 228.2,644.7 234.5,645.1 240.7,645.5 247.0,646.1 253.2,646.8 259.5,647.6 265.7,648.5 272.0,649.5 278.2,650.6 284.5,651.9 284.5,701.6 134.4,701.6"/></clipPath>
<linearGradient id="gg1" gradientUnits="userSpaceOnUse" x1="0" y1="644.2" x2="0" y2="701.6"><stop offset="0" stop-color="#006a00"/><stop offset="0.35" stop-color="#008c00"/><stop offset="0.7" stop-color="#009e00"/><stop offset="1" stop-color="#00ac00"/></linearGradient>
<g clip-path="url(#cl1)">
<rect x="134.4" y="639.9" width="150.10" height="61.70" fill="url(#gg1)"/>
<polygon points="134.4,662.2 140.7,661.0 146.9,659.9 153.2,658.9 159.4,658.0 165.7,657.2 171.9,656.5 178.2,655.9 184.4,655.4 190.7,655.0 196.9,654.8 203.2,654.6 209.4,654.5 215.7,654.6 222.0,654.8 228.2,655.0 234.5,655.4 240.7,655.9 247.0,656.5 253.2,657.2 259.5,658.0 265.7,658.9 272.0,659.9 278.2,661.0 284.5,662.2 284.5,637.9 134.4,637.9" fill="#001400" fill-opacity="0.2"/>
<polygon points="134.4,661.1 140.7,659.8 146.9,658.7 153.2,657.7 159.4,656.8 165.7,656.0 171.9,655.3 178.2,654.7 184.4,654.3 190.7,653.9 196.9,653.6 203.2,653.5 209.4,653.4 215.7,653.5 222.0,653.6 228.2,653.9 234.5,654.3 240.7,654.7 247.0,655.3 253.2,656.0 259.5,656.8 265.7,657.7 272.0,658.7 278.2,659.8 284.5,661.1 284.5,637.9 134.4,637.9" fill="#001400" fill-opacity="0.2"/>
<polygon points="134.4,659.9 140.7,658.7 146.9,657.6 153.2,656.6 159.4,655.7 165.7,654.9 171.9,654.2 178.2,653.6 184.4,653.1 190.7,652.7 196.9,652.5 203.2,652.3 209.4,652.2 215.7,652.3 222.0,652.5 228.2,652.7 234.5,653.1 240.7,653.6 247.0,654.2 253.2,654.9 259.5,655.7 265.7,656.6 272.0,657.6 278.2,658.7 284.5,659.9 284.5,637.9 134.4,637.9" fill="#001400" fill-opacity="0.2"/>
<polygon points="134.4,658.8 140.7,657.5 146.9,656.4 153.2,655.4 159.4,654.5 165.7,653.7 171.9,653.0 178.2,652.4 184.4,652.0 190.7,651.6 196.9,651.3 203.2,651.2 209.4,651.1 215.7,651.2 222.0,651.3 228.2,651.6 234.5,652.0 240.7,652.4 247.0,653.0 253.2,653.7 259.5,654.5 265.7,655.4 272.0,656.4 278.2,657.5 284.5,658.8 284.5,637.9 134.4,637.9" fill="#001400" fill-opacity="0.2"/>
<polygon points="134.4,657.6 140.7,656.4 146.9,655.3 153.2,654.3 159.4,653.4 165.7,652.6 171.9,651.9 178.2,651.3 184.4,650.8 190.7,650.4 196.9,650.2 203.2,650.0 209.4,649.9 215.7,650.0 222.0,650.2 228.2,650.4 234.5,650.8 240.7,651.3 247.0,651.9 253.2,652.6 259.5,653.4 265.7,654.3 272.0,655.3 278.2,656.4 284.5,657.6 284.5,637.9 134.4,637.9" fill="#001400" fill-opacity="0.2"/>
<polygon points="134.4,656.5 140.7,655.2 146.9,654.1 153.2,653.1 159.4,652.2 165.7,651.4 171.9,650.7 178.2,650.1 184.4,649.7 190.7,649.3 196.9,649.0 203.2,648.9 209.4,648.8 215.7,648.9 222.0,649.0 228.2,649.3 234.5,649.7 240.7,650.1 247.0,650.7 253.2,651.4 259.5,652.2 265.7,653.1 272.0,654.1 278.2,655.2 284.5,656.5 284.5,637.9 134.4,637.9" fill="#001400" fill-opacity="0.2"/>
<polygon points="134.4,655.3 140.7,654.1 146.9,653.0 153.2,652.0 159.4,651.1 165.7,650.3 171.9,649.6 178.2,649.0 184.4,648.5 190.7,648.1 196.9,647.9 203.2,647.7 209.4,647.6 215.7,647.7 222.0,647.9 228.2,648.1 234.5,648.5 240.7,649.0 247.0,649.6 253.2,650.3 259.5,651.1 265.7,652.0 272.0,653.0 278.2,654.1 284.5,655.3 284.5,637.9 134.4,637.9" fill="#001400" fill-opacity="0.2"/>
<polygon points="134.4,654.2 140.7,652.9 146.9,651.8 153.2,650.8 159.4,649.9 165.7,649.1 171.9,648.4 178.2,647.8 184.4,647.4 190.7,647.0 196.9,646.7 203.2,646.6 209.4,646.5 215.7,646.6 222.0,646.7 228.2,647.0 234.5,647.4 240.7,647.8 247.0,648.4 253.2,649.1 259.5,649.9 265.7,650.8 272.0,651.8 278.2,652.9 284.5,654.2 284.5,637.9 134.4,637.9" fill="#001400" fill-opacity="0.2"/>
<polygon points="134.4,653.0 140.7,651.8 146.9,650.7 153.2,649.7 159.4,648.8 165.7,648.0 171.9,647.3 178.2,646.7 184.4,646.2 190.7,645.8 196.9,645.6 203.2,645.4 209.4,645.3 215.7,645.4 222.0,645.6 228.2,645.8 234.5,646.2 240.7,646.7 247.0,647.3 253.2,648.0 259.5,648.8 265.7,649.7 272.0,650.7 278.2,651.8 284.5,653.0 284.5,637.9 134.4,637.9" fill="#001400" fill-opacity="0.2"/>
<ellipse cx="209.4" cy="645.2" rx="28.5" ry="9.2" fill="#005858" fill-opacity="0.35"/>
<path d="M134.4 654.7Q209.4 640.7 284.5 654.7M134.4 657.0Q209.4 644.0 284.5 657.0M134.4 659.5Q209.4 647.7 284.5 659.5M134.4 662.2Q209.4 651.8 284.5 662.2M134.4 665.3Q209.4 656.1 284.5 665.3M134.4 668.6Q209.4 660.8 284.5 668.6M134.4 672.3Q209.4 665.7 284.5 672.3M134.4 676.3Q209.4 670.9 284.5 676.3M134.4 680.6Q209.4 676.4 284.5 680.6M134.4 685.3Q209.4 682.1 284.5 685.3M134.4 690.4Q209.4 688.0 284.5 690.4M134.4 695.9Q209.4 694.1 284.5 695.9M134.4 701.9Q209.4 700.3 284.5 701.9M209.4 643.2L209.4 702.6M214.5 643.2L217.1 702.6M204.3 643.2L201.8 702.6M219.6 643.2L224.8 702.6M199.2 643.2L194.0 702.6M224.8 643.2L232.5 702.6M194.1 643.2L186.3 702.6M229.8 643.2L240.2 702.6M189.0 643.2L178.6 702.6M234.9 643.2L247.9 702.6M183.9 643.2L170.9 702.6M240.0 643.2L255.6 702.6M178.8 643.2L163.2 702.6M245.1 643.2L263.3 702.6M173.8 643.2L155.5 702.6M250.2 643.2L271.1 702.6M168.6 643.2L147.8 702.6M255.3 643.2L278.8 702.6M163.5 643.2L140.1 702.6M260.4 643.2L286.4 702.6M158.4 643.2L132.4 702.6M265.5 643.2L294.1 702.6M153.3 643.2L124.7 702.6M270.6 643.2L301.9 702.6M148.2 643.2L117.0 702.6M275.8 643.2L309.6 702.6M143.1 643.2L109.3 702.6M280.8 643.2L317.2 702.6M138.1 643.2L101.6 702.6M285.9 643.2L324.9 702.6M132.9 643.2L93.9 702.6M291.0 643.2L332.6 702.6M127.8 643.2L86.2 702.6M296.1 643.2L340.4 702.6M122.8 643.2L78.5 702.6M301.2 643.2L348.0 702.6M117.6 643.2L70.8 702.6M306.3 643.2L355.8 702.6M112.5 643.2L63.1 702.6M311.4 643.2L363.4 702.6M107.4 643.2L55.4 702.6" fill="none" stroke="#004800" stroke-width="0.6"/>
</g>
<polygon points="209.4,639.9 212.8,639.9 216.2,640.0 216.2,644.6 212.8,644.5 209.4,644.5" fill="#0a14e6" stroke="#0a14e6" stroke-width="0.3"/>
<polygon points="202.6,640.0 206.0,639.9 209.4,639.9 209.4,644.5 206.0,644.5 202.6,644.6" fill="#0a14e6" stroke="#0a14e6" stroke-width="0.3"/>
<polygon points="216.2,640.0 219.6,640.0 223.0,640.1 223.0,644.8 219.6,644.6 216.2,644.6" fill="#0a14e6" stroke="#0a14e6" stroke-width="0.3"/>
<polygon points="195.8,640.1 199.2,640.0 202.6,640.0 202.6,644.6 199.2,644.6 195.8,644.8" fill="#0a14e6" stroke="#0a14e6" stroke-width="0.3"/>
<polygon points="223.0,640.1 226.4,640.3 229.8,640.4 229.8,645.1 226.4,644.9 223.0,644.8" fill="#3c9cff" stroke="#3c9cff" stroke-width="0.3"/>
<polygon points="189.0,640.4 192.4,640.3 195.8,640.1 195.8,644.8 192.4,644.9 189.0,645.1" fill="#3c9cff" stroke="#3c9cff" stroke-width="0.3"/>
<polygon points="229.8,640.4 233.2,640.6 236.6,640.9 236.6,645.5 233.2,645.3 229.8,645.1" fill="#22dcf6" stroke="#22dcf6" stroke-width="0.3"/>
<polygon points="182.2,640.9 185.6,640.6 189.0,640.4 189.0,645.1 185.6,645.3 182.2,645.5" fill="#22dcf6" stroke="#22dcf6" stroke-width="0.3"/>
<polygon points="236.6,640.9 240.0,641.1 243.4,641.4 243.4,646.1 240.0,645.8 236.6,645.5" fill="#22dcf6" stroke="#22dcf6" stroke-width="0.3"/>
<polygon points="175.4,641.4 178.8,641.1 182.2,640.9 182.2,645.5 178.8,645.8 175.4,646.1" fill="#22dcf6" stroke="#22dcf6" stroke-width="0.3"/>
<polygon points="243.4,641.4 246.8,641.7 250.2,642.1 250.2,646.8 246.8,646.4 243.4,646.1" fill="#30f0e8" stroke="#30f0e8" stroke-width="0.3"/>
<polygon points="168.6,642.1 172.0,641.7 175.4,641.4 175.4,646.1 172.0,646.4 168.6,646.8" fill="#30f0e8" stroke="#30f0e8" stroke-width="0.3"/>
<polygon points="250.2,642.1 253.7,642.5 257.1,642.9 257.1,647.6 253.7,647.2 250.2,646.8" fill="#30f0e8" stroke="#30f0e8" stroke-width="0.3"/>
<polygon points="161.8,642.9 165.2,642.5 168.6,642.1 168.6,646.8 165.2,647.2 161.8,647.6" fill="#30f0e8" stroke="#30f0e8" stroke-width="0.3"/>
<polygon points="257.1,642.9 260.4,643.3 263.8,643.8 263.8,648.5 260.4,648.0 257.1,647.6" fill="#38f0b0" stroke="#38f0b0" stroke-width="0.3"/>
<polygon points="155.0,643.8 158.4,643.3 161.8,642.9 161.8,647.6 158.4,648.0 155.0,648.5" fill="#38f0b0" stroke="#38f0b0" stroke-width="0.3"/>
<polygon points="263.8,643.8 267.2,644.3 270.6,644.8 270.6,649.6 267.2,649.0 263.8,648.5" fill="#22e23a" stroke="#22e23a" stroke-width="0.3"/>
<polygon points="148.2,644.8 151.6,644.3 155.0,643.8 155.0,648.5 151.6,649.0 148.2,649.6" fill="#22e23a" stroke="#22e23a" stroke-width="0.3"/>
<polygon points="270.6,644.8 274.0,645.4 277.4,646.0 277.4,650.8 274.0,650.2 270.6,649.6" fill="#22e23a" stroke="#22e23a" stroke-width="0.3"/>
<polygon points="141.4,646.0 144.8,645.4 148.2,644.8 148.2,649.6 144.8,650.2 141.4,650.8" fill="#22e23a" stroke="#22e23a" stroke-width="0.3"/>
<polygon points="277.4,646.0 280.9,646.6 284.2,647.3 284.2,652.1 280.9,651.4 277.4,650.8" fill="#22e23a" stroke="#22e23a" stroke-width="0.3"/>
<polygon points="134.6,647.3 138.0,646.6 141.4,646.0 141.4,650.8 138.0,651.4 134.6,652.1" fill="#22e23a" stroke="#22e23a" stroke-width="0.3"/>
<polygon points="284.2,647.3 284.4,647.3 284.5,647.3 284.5,652.2 284.4,652.1 284.2,652.1" fill="#22e23a" stroke="#22e23a" stroke-width="0.3"/>
<polygon points="134.4,647.3 134.5,647.3 134.6,647.3 134.6,652.1 134.5,652.1 134.4,652.2" fill="#22e23a" stroke="#22e23a" stroke-width="0.3"/>
<path d="M209.4 639.9V644.2M209.4 639.9V644.2M216.2 640.0V644.3M202.6 640.0V644.3M223.0 640.1V644.5M195.8 640.1V644.5M229.8 640.4V644.8M189.0 640.4V644.8M236.6 640.9V645.2M182.2 640.9V645.2M243.4 641.4V645.8M175.4 641.4V645.8M250.2 642.1V646.5M168.6 642.1V646.5M257.1 642.9V647.3M161.8 642.9V647.3M263.8 643.8V648.2M155.0 643.8V648.2M270.6 644.8V649.3M148.2 644.8V649.3M277.4 646.0V650.5M141.4 646.0V650.5M284.2 647.3V651.8M134.6 647.3V651.8" stroke="#0a4858" stroke-opacity="0.3" stroke-width="0.5" fill="none"/>
<path d="M134.90 647.30V589.70H284.00V639.50" fill="none" stroke="#7a7a7a" stroke-width="1.1"/>
<line x1="209.6" y1="602.2" x2="209.6" y2="631.80" stroke="#000" stroke-width="2.9"/>
<polygon points="204.40,630.20 214.80,630.20 209.60,638.80" fill="#000"/>
<text x="220.6" y="616.4" font-size="25.2" class="i">F</text><text x="236.2" y="622.8" font-size="18.5">b</text>
<clipPath id="cl2"><polygon points="384.5,685.9 391.0,684.5 397.6,683.3 404.1,682.2 410.6,681.2 417.1,680.3 423.6,679.6 430.2,679.0 436.7,678.4 443.2,678.0 449.8,677.7 456.3,677.6 462.8,677.5 469.3,677.6 475.9,677.7 482.4,678.0 488.9,678.4 495.4,679.0 501.9,679.6 508.5,680.3 515.0,681.2 521.5,682.2 528.1,683.3 534.6,684.5 541.1,685.9 541.1,738.7 384.5,738.7"/></clipPath>
<linearGradient id="gg2" gradientUnits="userSpaceOnUse" x1="0" y1="677.5" x2="0" y2="738.7"><stop offset="0" stop-color="#006a00"/><stop offset="0.35" stop-color="#008c00"/><stop offset="0.7" stop-color="#009e00"/><stop offset="1" stop-color="#00ac00"/></linearGradient>
<g clip-path="url(#cl2)">
<rect x="384.5" y="673.1" width="156.60" height="65.60" fill="url(#gg2)"/>
<polygon points="384.5,696.2 391.0,694.9 397.6,693.7 404.1,692.6 410.6,691.6 417.1,690.7 423.6,689.9 430.2,689.3 436.7,688.8 443.2,688.4 449.8,688.1 456.3,687.9 462.8,687.9 469.3,687.9 475.9,688.1 482.4,688.4 488.9,688.8 495.4,689.3 501.9,689.9 508.5,690.7 515.0,691.6 521.5,692.6 528.1,693.7 534.6,694.9 541.1,696.2 541.1,671.1 384.5,671.1" fill="#001400" fill-opacity="0.2"/>
<polygon points="384.5,695.1 391.0,693.7 397.6,692.5 404.1,691.4 410.6,690.4 417.1,689.5 423.6,688.8 430.2,688.2 436.7,687.6 443.2,687.2 449.8,686.9 456.3,686.8 462.8,686.7 469.3,686.8 475.9,686.9 482.4,687.2 488.9,687.6 495.4,688.2 501.9,688.8 508.5,689.5 515.0,690.4 521.5,691.4 528.1,692.5 534.6,693.7 541.1,695.1 541.1,671.1 384.5,671.1" fill="#001400" fill-opacity="0.2"/>
<polygon points="384.5,693.9 391.0,692.6 397.6,691.4 404.1,690.3 410.6,689.3 417.1,688.4 423.6,687.6 430.2,687.0 436.7,686.5 443.2,686.1 449.8,685.8 456.3,685.6 462.8,685.5 469.3,685.6 475.9,685.8 482.4,686.1 488.9,686.5 495.4,687.0 501.9,687.6 508.5,688.4 515.0,689.3 521.5,690.3 528.1,691.4 534.6,692.6 541.1,693.9 541.1,671.1 384.5,671.1" fill="#001400" fill-opacity="0.2"/>
<polygon points="384.5,692.8 391.0,691.4 397.6,690.2 404.1,689.1 410.6,688.1 417.1,687.2 423.6,686.5 430.2,685.9 436.7,685.3 443.2,684.9 449.8,684.6 456.3,684.5 462.8,684.4 469.3,684.5 475.9,684.6 482.4,684.9 488.9,685.3 495.4,685.9 501.9,686.5 508.5,687.2 515.0,688.1 521.5,689.1 528.1,690.2 534.6,691.4 541.1,692.8 541.1,671.1 384.5,671.1" fill="#001400" fill-opacity="0.2"/>
<polygon points="384.5,691.6 391.0,690.3 397.6,689.1 404.1,688.0 410.6,687.0 417.1,686.1 423.6,685.3 430.2,684.7 436.7,684.2 443.2,683.8 449.8,683.5 456.3,683.3 462.8,683.2 469.3,683.3 475.9,683.5 482.4,683.8 488.9,684.2 495.4,684.7 501.9,685.3 508.5,686.1 515.0,687.0 521.5,688.0 528.1,689.1 534.6,690.3 541.1,691.6 541.1,671.1 384.5,671.1" fill="#001400" fill-opacity="0.2"/>
<polygon points="384.5,690.5 391.0,689.1 397.6,687.9 404.1,686.8 410.6,685.8 417.1,684.9 423.6,684.2 430.2,683.6 436.7,683.0 443.2,682.6 449.8,682.3 456.3,682.2 462.8,682.1 469.3,682.2 475.9,682.3 482.4,682.6 488.9,683.0 495.4,683.6 501.9,684.2 508.5,684.9 515.0,685.8 521.5,686.8 528.1,687.9 534.6,689.1 541.1,690.5 541.1,671.1 384.5,671.1" fill="#001400" fill-opacity="0.2"/>
<polygon points="384.5,689.3 391.0,688.0 397.6,686.8 404.1,685.7 410.6,684.7 417.1,683.8 423.6,683.0 430.2,682.4 436.7,681.9 443.2,681.5 449.8,681.2 456.3,681.0 462.8,681.0 469.3,681.0 475.9,681.2 482.4,681.5 488.9,681.9 495.4,682.4 501.9,683.0 508.5,683.8 515.0,684.7 521.5,685.7 528.1,686.8 534.6,688.0 541.1,689.3 541.1,671.1 384.5,671.1" fill="#001400" fill-opacity="0.2"/>
<polygon points="384.5,688.2 391.0,686.8 397.6,685.6 404.1,684.5 410.6,683.5 417.1,682.6 423.6,681.9 430.2,681.3 436.7,680.7 443.2,680.3 449.8,680.0 456.3,679.9 462.8,679.8 469.3,679.9 475.9,680.0 482.4,680.3 488.9,680.7 495.4,681.3 501.9,681.9 508.5,682.6 515.0,683.5 521.5,684.5 528.1,685.6 534.6,686.8 541.1,688.2 541.1,671.1 384.5,671.1" fill="#001400" fill-opacity="0.2"/>
<polygon points="384.5,687.0 391.0,685.7 397.6,684.5 404.1,683.4 410.6,682.4 417.1,681.5 423.6,680.7 430.2,680.1 436.7,679.6 443.2,679.2 449.8,678.9 456.3,678.7 462.8,678.6 469.3,678.7 475.9,678.9 482.4,679.2 488.9,679.6 495.4,680.1 501.9,680.7 508.5,681.5 515.0,682.4 521.5,683.4 528.1,684.5 534.6,685.7 541.1,687.0 541.1,671.1 384.5,671.1" fill="#001400" fill-opacity="0.2"/>
<ellipse cx="462.8" cy="678.5" rx="29.8" ry="9.8" fill="#005858" fill-opacity="0.35"/>
<path d="M384.5 688.7Q462.8 673.3 541.1 688.7M384.5 690.9Q462.8 676.7 541.1 690.9M384.5 693.4Q462.8 680.4 541.1 693.4M384.5 696.2Q462.8 684.4 541.1 696.2M384.5 699.2Q462.8 688.8 541.1 699.2M384.5 702.5Q462.8 693.5 541.1 702.5M384.5 706.2Q462.8 698.4 541.1 706.2M384.5 710.1Q462.8 703.7 541.1 710.1M384.5 714.4Q462.8 709.2 541.1 714.4M384.5 719.0Q462.8 715.0 541.1 719.0M384.5 724.0Q462.8 721.0 541.1 724.0M384.5 729.5Q462.8 727.1 541.1 729.5M384.5 735.3Q462.8 733.5 541.1 735.3M462.8 676.5L462.8 739.7M468.1 676.5L470.8 739.7M457.5 676.5L454.8 739.7M473.4 676.5L478.8 739.7M452.2 676.5L446.8 739.7M478.7 676.5L486.8 739.7M446.9 676.5L438.8 739.7M484.0 676.5L494.8 739.7M441.6 676.5L430.8 739.7M489.3 676.5L502.8 739.7M436.3 676.5L422.8 739.7M494.6 676.5L510.8 739.7M431.0 676.5L414.8 739.7M499.9 676.5L518.8 739.7M425.7 676.5L406.8 739.7M505.2 676.5L526.8 739.7M420.4 676.5L398.8 739.7M510.5 676.5L534.8 739.7M415.1 676.5L390.8 739.7M515.8 676.5L542.8 739.7M409.8 676.5L382.8 739.7M521.1 676.5L550.8 739.7M404.5 676.5L374.8 739.7M526.4 676.5L558.8 739.7M399.2 676.5L366.8 739.7M531.7 676.5L566.8 739.7M393.9 676.5L358.8 739.7M537.0 676.5L574.8 739.7M388.6 676.5L350.8 739.7M542.3 676.5L582.8 739.7M383.3 676.5L342.8 739.7M547.6 676.5L590.8 739.7M378.0 676.5L334.8 739.7M552.9 676.5L598.8 739.7M372.7 676.5L326.8 739.7M558.2 676.5L606.8 739.7M367.4 676.5L318.8 739.7M563.5 676.5L614.8 739.7M362.1 676.5L310.8 739.7M568.8 676.5L622.8 739.7M356.8 676.5L302.8 739.7" fill="none" stroke="#004800" stroke-width="0.6"/>
</g>
<polygon points="462.8,673.1 466.9,673.1 470.9,673.2 470.9,677.9 466.9,677.8 462.8,677.8" fill="#0a14e6" stroke="#0a14e6" stroke-width="0.3"/>
<polygon points="454.7,673.2 458.8,673.1 462.8,673.1 462.8,677.8 458.8,677.8 454.7,677.9" fill="#0a14e6" stroke="#0a14e6" stroke-width="0.3"/>
<polygon points="470.9,673.2 475.0,673.3 479.0,673.4 479.0,678.2 475.0,678.0 470.9,677.9" fill="#0a14e6" stroke="#0a14e6" stroke-width="0.3"/>
<polygon points="446.6,673.4 450.6,673.3 454.7,673.2 454.7,677.9 450.6,678.0 446.6,678.2" fill="#0a14e6" stroke="#0a14e6" stroke-width="0.3"/>
<polygon points="479.0,673.4 483.1,673.6 487.1,673.9 487.1,678.6 483.1,678.4 479.0,678.2" fill="#3c9cff" stroke="#3c9cff" stroke-width="0.3"/>
<polygon points="438.5,673.9 442.6,673.6 446.6,673.4 446.6,678.2 442.6,678.4 438.5,678.6" fill="#3c9cff" stroke="#3c9cff" stroke-width="0.3"/>
<polygon points="487.1,673.9 491.1,674.2 495.2,674.5 495.2,679.2 491.1,678.9 487.1,678.6" fill="#22dcf6" stroke="#22dcf6" stroke-width="0.3"/>
<polygon points="430.4,674.5 434.5,674.2 438.5,673.9 438.5,678.6 434.5,678.9 430.4,679.2" fill="#22dcf6" stroke="#22dcf6" stroke-width="0.3"/>
<polygon points="495.2,674.5 499.2,674.9 503.3,675.3 503.3,680.0 499.2,679.6 495.2,679.2" fill="#22dcf6" stroke="#22dcf6" stroke-width="0.3"/>
<polygon points="422.3,675.3 426.4,674.9 430.4,674.5 430.4,679.2 426.4,679.6 422.3,680.0" fill="#22dcf6" stroke="#22dcf6" stroke-width="0.3"/>
<polygon points="503.3,675.3 507.4,675.7 511.4,676.2 511.4,681.0 507.4,680.5 503.3,680.0" fill="#30f0e8" stroke="#30f0e8" stroke-width="0.3"/>
<polygon points="414.2,676.2 418.2,675.7 422.3,675.3 422.3,680.0 418.2,680.5 414.2,681.0" fill="#30f0e8" stroke="#30f0e8" stroke-width="0.3"/>
<polygon points="511.4,676.2 515.5,676.8 519.5,677.3 519.5,682.2 515.5,681.6 511.4,681.0" fill="#30f0e8" stroke="#30f0e8" stroke-width="0.3"/>
<polygon points="406.1,677.3 410.2,676.8 414.2,676.2 414.2,681.0 410.2,681.6 406.1,682.2" fill="#30f0e8" stroke="#30f0e8" stroke-width="0.3"/>
<polygon points="519.5,677.3 523.5,678.0 527.6,678.6 527.6,683.5 523.5,682.8 519.5,682.2" fill="#38f0b0" stroke="#38f0b0" stroke-width="0.3"/>
<polygon points="398.0,678.6 402.1,678.0 406.1,677.3 406.1,682.2 402.1,682.8 398.0,683.5" fill="#38f0b0" stroke="#38f0b0" stroke-width="0.3"/>
<polygon points="527.6,678.6 531.7,679.4 535.7,680.1 535.7,685.1 531.7,684.3 527.6,683.5" fill="#22e23a" stroke="#22e23a" stroke-width="0.3"/>
<polygon points="389.9,680.1 394.0,679.4 398.0,678.6 398.0,683.5 394.0,684.3 389.9,685.1" fill="#22e23a" stroke="#22e23a" stroke-width="0.3"/>
<polygon points="535.7,680.1 538.4,680.7 541.1,681.2 541.1,686.2 538.4,685.6 535.7,685.1" fill="#22e23a" stroke="#22e23a" stroke-width="0.3"/>
<polygon points="384.5,681.2 387.2,680.7 389.9,680.1 389.9,685.1 387.2,685.6 384.5,686.2" fill="#22e23a" stroke="#22e23a" stroke-width="0.3"/>
<path d="M462.8 673.1V677.5M462.8 673.1V677.5M470.9 673.2V677.6M454.7 673.2V677.6M479.0 673.4V677.9M446.6 673.4V677.9M487.1 673.9V678.3M438.5 673.9V678.3M495.2 674.5V678.9M430.4 674.5V678.9M503.3 675.3V679.7M422.3 675.3V679.7M511.4 676.2V680.7M414.2 676.2V680.7M519.5 677.3V681.9M406.1 677.3V681.9M527.6 678.6V683.2M398.0 678.6V683.2M535.7 680.1V684.8M389.9 680.1V684.8" stroke="#0a4858" stroke-opacity="0.3" stroke-width="0.5" fill="none"/>
<path d="M385.00 681.20V622.20H540.60V673.00" fill="none" stroke="#7a7a7a" stroke-width="1.1"/>
<rect x="393.9" y="646.4" width="136.20" height="25.20" fill="#d2d2d2"/>
<line x1="462.7" y1="628.9" x2="462.7" y2="658.40" stroke="#000" stroke-width="2.9"/>
<polygon points="457.50,656.80 467.90,656.80 462.70,665.40" fill="#000"/>
<text x="474.0" y="646.0" font-size="25.2" class="i">F</text><text x="489.6" y="652.8" font-size="18.5">f</text>
<clipPath id="cl3"><polygon points="674.4,732.1 680.7,729.1 686.9,726.3 693.2,723.8 699.5,721.5 705.8,719.5 712.0,717.8 718.3,716.3 724.6,715.1 730.9,714.2 737.1,713.5 743.4,713.1 749.7,713.0 756.0,713.1 762.2,713.5 768.5,714.2 774.8,715.1 781.1,716.3 787.4,717.8 793.6,719.5 799.9,721.5 806.2,723.8 812.5,726.3 818.7,729.1 825.0,732.1 825.0,774.6 674.4,774.6"/></clipPath>
<linearGradient id="gg3" gradientUnits="userSpaceOnUse" x1="0" y1="713.0" x2="0" y2="774.6"><stop offset="0" stop-color="#006000"/><stop offset="0.3" stop-color="#008a00"/><stop offset="0.65" stop-color="#00a800"/><stop offset="1" stop-color="#0cc40c"/></linearGradient>
<g clip-path="url(#cl3)">
<rect x="674.4" y="707.8" width="150.60" height="66.80" fill="url(#gg3)"/>
<polygon points="674.4,743.8 680.7,740.8 686.9,738.0 693.2,735.5 699.5,733.2 705.8,731.2 712.0,729.5 718.3,728.0 724.6,726.8 730.9,725.9 737.1,725.2 743.4,724.8 749.7,724.7 756.0,724.8 762.2,725.2 768.5,725.9 774.8,726.8 781.1,728.0 787.4,729.5 793.6,731.2 799.9,733.2 806.2,735.5 812.5,738.0 818.7,740.8 825.0,743.8 825.0,705.8 674.4,705.8" fill="#001400" fill-opacity="0.2"/>
<polygon points="674.4,742.5 680.7,739.5 686.9,736.7 693.2,734.2 699.5,731.9 705.8,729.9 712.0,728.2 718.3,726.7 724.6,725.5 730.9,724.6 737.1,723.9 743.4,723.5 749.7,723.4 756.0,723.5 762.2,723.9 768.5,724.6 774.8,725.5 781.1,726.7 787.4,728.2 793.6,729.9 799.9,731.9 806.2,734.2 812.5,736.7 818.7,739.5 825.0,742.5 825.0,705.8 674.4,705.8" fill="#001400" fill-opacity="0.2"/>
<polygon points="674.4,741.2 680.7,738.2 686.9,735.4 693.2,732.9 699.5,730.6 705.8,728.6 712.0,726.9 718.3,725.4 724.6,724.2 730.9,723.3 737.1,722.6 743.4,722.2 749.7,722.1 756.0,722.2 762.2,722.6 768.5,723.3 774.8,724.2 781.1,725.4 787.4,726.9 793.6,728.6 799.9,730.6 806.2,732.9 812.5,735.4 818.7,738.2 825.0,741.2 825.0,705.8 674.4,705.8" fill="#001400" fill-opacity="0.2"/>
<polygon points="674.4,739.9 680.7,736.9 686.9,734.1 693.2,731.6 699.5,729.3 705.8,727.3 712.0,725.6 718.3,724.1 724.6,722.9 730.9,722.0 737.1,721.3 743.4,720.9 749.7,720.8 756.0,720.9 762.2,721.3 768.5,722.0 774.8,722.9 781.1,724.1 787.4,725.6 793.6,727.3 799.9,729.3 806.2,731.6 812.5,734.1 818.7,736.9 825.0,739.9 825.0,705.8 674.4,705.8" fill="#001400" fill-opacity="0.2"/>
<polygon points="674.4,738.6 680.7,735.6 686.9,732.8 693.2,730.3 699.5,728.0 705.8,726.0 712.0,724.3 718.3,722.8 724.6,721.6 730.9,720.7 737.1,720.0 743.4,719.6 749.7,719.5 756.0,719.6 762.2,720.0 768.5,720.7 774.8,721.6 781.1,722.8 787.4,724.3 793.6,726.0 799.9,728.0 806.2,730.3 812.5,732.8 818.7,735.6 825.0,738.6 825.0,705.8 674.4,705.8" fill="#001400" fill-opacity="0.2"/>
<polygon points="674.4,737.3 680.7,734.3 686.9,731.5 693.2,729.0 699.5,726.7 705.8,724.7 712.0,723.0 718.3,721.5 724.6,720.3 730.9,719.4 737.1,718.7 743.4,718.3 749.7,718.2 756.0,718.3 762.2,718.7 768.5,719.4 774.8,720.3 781.1,721.5 787.4,723.0 793.6,724.7 799.9,726.7 806.2,729.0 812.5,731.5 818.7,734.3 825.0,737.3 825.0,705.8 674.4,705.8" fill="#001400" fill-opacity="0.2"/>
<polygon points="674.4,736.0 680.7,733.0 686.9,730.2 693.2,727.7 699.5,725.4 705.8,723.4 712.0,721.7 718.3,720.2 724.6,719.0 730.9,718.1 737.1,717.4 743.4,717.0 749.7,716.9 756.0,717.0 762.2,717.4 768.5,718.1 774.8,719.0 781.1,720.2 787.4,721.7 793.6,723.4 799.9,725.4 806.2,727.7 812.5,730.2 818.7,733.0 825.0,736.0 825.0,705.8 674.4,705.8" fill="#001400" fill-opacity="0.2"/>
<polygon points="674.4,734.7 680.7,731.7 686.9,728.9 693.2,726.4 699.5,724.1 705.8,722.1 712.0,720.4 718.3,718.9 724.6,717.7 730.9,716.8 737.1,716.1 743.4,715.7 749.7,715.6 756.0,715.7 762.2,716.1 768.5,716.8 774.8,717.7 781.1,718.9 787.4,720.4 793.6,722.1 799.9,724.1 806.2,726.4 812.5,728.9 818.7,731.7 825.0,734.7 825.0,705.8 674.4,705.8" fill="#001400" fill-opacity="0.2"/>
<polygon points="674.4,733.4 680.7,730.4 686.9,727.6 693.2,725.1 699.5,722.8 705.8,720.8 712.0,719.1 718.3,717.6 724.6,716.4 730.9,715.5 737.1,714.8 743.4,714.4 749.7,714.3 756.0,714.4 762.2,714.8 768.5,715.5 774.8,716.4 781.1,717.6 787.4,719.1 793.6,720.8 799.9,722.8 806.2,725.1 812.5,727.6 818.7,730.4 825.0,733.4 825.0,705.8 674.4,705.8" fill="#001400" fill-opacity="0.2"/>
<ellipse cx="749.7" cy="714.0" rx="28.6" ry="9.9" fill="#005858" fill-opacity="0.35"/>
<path d="M674.4 732.7Q749.7 695.3 825.0 732.7M674.4 732.9Q749.7 696.1 825.0 732.9M674.4 733.4Q749.7 697.3 825.0 733.4M674.4 734.0Q749.7 699.0 825.0 734.0M674.4 734.7Q749.7 701.2 825.0 734.7M674.4 735.7Q749.7 703.9 825.0 735.7M674.4 736.9Q749.7 707.0 825.0 736.9M674.4 738.3Q749.7 710.6 825.0 738.3M674.4 739.9Q749.7 714.6 825.0 739.9M674.4 741.8Q749.7 718.9 825.0 741.8M674.4 744.0Q749.7 723.7 825.0 744.0M674.4 746.5Q749.7 728.8 825.0 746.5M674.4 749.3Q749.7 734.3 825.0 749.3M674.4 752.4Q749.7 740.0 825.0 752.4M674.4 756.0Q749.7 746.0 825.0 756.0M674.4 760.0Q749.7 752.3 825.0 760.0M674.4 764.6Q749.7 758.6 825.0 764.6M674.4 769.7Q749.7 765.1 825.0 769.7M674.4 775.4Q749.7 771.6 825.0 775.4M749.7 712.0L749.7 775.6M752.3 712.0L753.7 775.6M747.1 712.0L745.7 775.6M754.9 712.0L757.7 775.6M744.5 712.0L741.7 775.6M757.5 712.0L761.7 775.6M741.9 712.0L737.7 775.6M760.1 712.0L765.7 775.6M739.3 712.0L733.7 775.6M762.7 712.0L769.7 775.6M736.7 712.0L729.7 775.6M765.3 712.0L773.7 775.6M734.1 712.0L725.7 775.6M767.9 712.0L777.7 775.6M731.5 712.0L721.7 775.6M770.5 712.0L781.7 775.6M728.9 712.0L717.7 775.6M773.1 712.0L785.7 775.6M726.3 712.0L713.7 775.6M775.7 712.0L789.7 775.6M723.7 712.0L709.7 775.6M778.3 712.0L793.7 775.6M721.1 712.0L705.7 775.6M780.9 712.0L797.7 775.6M718.5 712.0L701.7 775.6M783.5 712.0L801.7 775.6M715.9 712.0L697.7 775.6M786.1 712.0L805.7 775.6M713.3 712.0L693.7 775.6M788.7 712.0L809.7 775.6M710.7 712.0L689.7 775.6M791.3 712.0L813.7 775.6M708.1 712.0L685.7 775.6M793.9 712.0L817.7 775.6M705.5 712.0L681.7 775.6M796.5 712.0L821.7 775.6M702.9 712.0L677.7 775.6M799.1 712.0L825.7 775.6M700.3 712.0L673.7 775.6M801.7 712.0L829.7 775.6M697.7 712.0L669.7 775.6M804.3 712.0L833.7 775.6M695.1 712.0L665.7 775.6M806.9 712.0L837.7 775.6M692.5 712.0L661.7 775.6M809.5 712.0L841.7 775.6M689.9 712.0L657.7 775.6M812.1 712.0L845.7 775.6M687.3 712.0L653.7 775.6M814.7 712.0L849.7 775.6M684.7 712.0L649.7 775.6M817.3 712.0L853.7 775.6M682.1 712.0L645.7 775.6M819.9 712.0L857.7 775.6M679.5 712.0L641.7 775.6M822.5 712.0L861.7 775.6M676.9 712.0L637.7 775.6M825.1 712.0L865.7 775.6M674.3 712.0L633.7 775.6M827.7 712.0L869.7 775.6M671.7 712.0L629.7 775.6M830.3 712.0L873.7 775.6M669.1 712.0L625.7 775.6M832.9 712.0L877.7 775.6M666.5 712.0L621.7 775.6M835.5 712.0L881.7 775.6M663.9 712.0L617.7 775.6M838.1 712.0L885.7 775.6M661.3 712.0L613.7 775.6" fill="none" stroke="#004800" stroke-width="0.5"/>
</g>
<polygon points="749.7,707.8 751.0,707.8 752.3,707.8 752.3,713.3 751.0,713.3 749.7,713.3" fill="#0a14e6" stroke="#0a14e6" stroke-width="0.3"/>
<polygon points="747.1,707.8 748.4,707.8 749.7,707.8 749.7,713.3 748.4,713.3 747.1,713.3" fill="#0a14e6" stroke="#0a14e6" stroke-width="0.3"/>
<polygon points="752.3,707.8 753.6,707.9 754.9,707.9 754.9,713.4 753.6,713.4 752.3,713.3" fill="#0a14e6" stroke="#0a14e6" stroke-width="0.3"/>
<polygon points="744.5,707.9 745.8,707.9 747.1,707.8 747.1,713.3 745.8,713.4 744.5,713.4" fill="#0a14e6" stroke="#0a14e6" stroke-width="0.3"/>
<polygon points="754.9,707.9 756.2,707.9 757.6,708.0 757.6,713.5 756.2,713.4 754.9,713.4" fill="#0a14e6" stroke="#0a14e6" stroke-width="0.3"/>
<polygon points="741.8,708.0 743.2,707.9 744.5,707.9 744.5,713.4 743.2,713.4 741.8,713.5" fill="#0a14e6" stroke="#0a14e6" stroke-width="0.3"/>
<polygon points="757.6,708.0 758.9,708.1 760.2,708.2 760.2,713.7 758.9,713.6 757.6,713.5" fill="#2a7cff" stroke="#2a7cff" stroke-width="0.3"/>
<polygon points="739.2,708.2 740.5,708.1 741.8,708.0 741.8,713.5 740.5,713.6 739.2,713.7" fill="#2a7cff" stroke="#2a7cff" stroke-width="0.3"/>
<polygon points="760.2,708.2 761.5,708.3 762.8,708.4 762.8,713.9 761.5,713.8 760.2,713.7" fill="#2a7cff" stroke="#2a7cff" stroke-width="0.3"/>
<polygon points="736.6,708.4 737.9,708.3 739.2,708.2 739.2,713.7 737.9,713.8 736.6,713.9" fill="#2a7cff" stroke="#2a7cff" stroke-width="0.3"/>
<polygon points="762.8,708.4 764.1,708.5 765.4,708.6 765.4,714.1 764.1,714.0 762.8,713.9" fill="#22d4f8" stroke="#22d4f8" stroke-width="0.3"/>
<polygon points="734.0,708.6 735.3,708.5 736.6,708.4 736.6,713.9 735.3,714.0 734.0,714.1" fill="#22d4f8" stroke="#22d4f8" stroke-width="0.3"/>
<polygon points="765.4,708.6 766.7,708.8 768.0,708.9 768.0,714.4 766.7,714.3 765.4,714.1" fill="#22d4f8" stroke="#22d4f8" stroke-width="0.3"/>
<polygon points="731.4,708.9 732.7,708.8 734.0,708.6 734.0,714.1 732.7,714.3 731.4,714.4" fill="#22d4f8" stroke="#22d4f8" stroke-width="0.3"/>
<polygon points="768.0,708.9 769.4,709.1 770.7,709.3 770.7,714.8 769.4,714.6 768.0,714.4" fill="#22d4f8" stroke="#22d4f8" stroke-width="0.3"/>
<polygon points="728.7,709.3 730.0,709.1 731.4,708.9 731.4,714.4 730.0,714.6 728.7,714.8" fill="#22d4f8" stroke="#22d4f8" stroke-width="0.3"/>
<polygon points="770.7,709.3 772.0,709.4 773.3,709.6 773.3,715.2 772.0,715.0 770.7,714.8" fill="#22d4f8" stroke="#22d4f8" stroke-width="0.3"/>
<polygon points="726.1,709.6 727.4,709.4 728.7,709.3 728.7,714.8 727.4,715.0 726.1,715.2" fill="#22d4f8" stroke="#22d4f8" stroke-width="0.3"/>
<polygon points="773.3,709.6 774.6,709.9 775.9,710.1 775.9,715.6 774.6,715.4 773.3,715.2" fill="#22d4f8" stroke="#22d4f8" stroke-width="0.3"/>
<polygon points="723.5,710.1 724.8,709.9 726.1,709.6 726.1,715.2 724.8,715.4 723.5,715.6" fill="#22d4f8" stroke="#22d4f8" stroke-width="0.3"/>
<polygon points="775.9,710.1 777.2,710.3 778.5,710.6 778.5,716.1 777.2,715.9 775.9,715.6" fill="#22d4f8" stroke="#22d4f8" stroke-width="0.3"/>
<polygon points="720.9,710.6 722.2,710.3 723.5,710.1 723.5,715.6 722.2,715.9 720.9,716.1" fill="#22d4f8" stroke="#22d4f8" stroke-width="0.3"/>
<polygon points="778.5,710.6 779.8,710.8 781.1,711.1 781.1,716.6 779.8,716.4 778.5,716.1" fill="#22d4f8" stroke="#22d4f8" stroke-width="0.3"/>
<polygon points="718.3,711.1 719.6,710.8 720.9,710.6 720.9,716.1 719.6,716.4 718.3,716.6" fill="#22d4f8" stroke="#22d4f8" stroke-width="0.3"/>
<polygon points="781.1,711.1 782.5,711.4 783.8,711.6 783.8,717.2 782.5,716.9 781.1,716.6" fill="#2ce8f0" stroke="#2ce8f0" stroke-width="0.3"/>
<polygon points="715.6,711.6 717.0,711.4 718.3,711.1 718.3,716.6 717.0,716.9 715.6,717.2" fill="#2ce8f0" stroke="#2ce8f0" stroke-width="0.3"/>
<polygon points="783.8,711.6 785.1,711.9 786.4,712.3 786.4,717.8 785.1,717.5 783.8,717.2" fill="#2ce8f0" stroke="#2ce8f0" stroke-width="0.3"/>
<polygon points="713.0,712.3 714.3,711.9 715.6,711.6 715.6,717.2 714.3,717.5 713.0,717.8" fill="#2ce8f0" stroke="#2ce8f0" stroke-width="0.3"/>
<polygon points="786.4,712.3 787.7,712.6 789.0,712.9 789.0,718.5 787.7,718.2 786.4,717.8" fill="#2ce8f0" stroke="#2ce8f0" stroke-width="0.3"/>
<polygon points="710.4,712.9 711.7,712.6 713.0,712.3 713.0,717.8 711.7,718.2 710.4,718.5" fill="#2ce8f0" stroke="#2ce8f0" stroke-width="0.3"/>
<polygon points="789.0,712.9 790.3,713.3 791.6,713.6 791.6,719.2 790.3,718.9 789.0,718.5" fill="#2ce8f0" stroke="#2ce8f0" stroke-width="0.3"/>
<polygon points="707.8,713.6 709.1,713.3 710.4,712.9 710.4,718.5 709.1,718.9 707.8,719.2" fill="#2ce8f0" stroke="#2ce8f0" stroke-width="0.3"/>
<polygon points="791.6,713.6 792.9,714.0 794.2,714.4 794.2,720.0 792.9,719.6 791.6,719.2" fill="#2ce8f0" stroke="#2ce8f0" stroke-width="0.3"/>
<polygon points="705.2,714.4 706.5,714.0 707.8,713.6 707.8,719.2 706.5,719.6 705.2,720.0" fill="#2ce8f0" stroke="#2ce8f0" stroke-width="0.3"/>
<polygon points="794.2,714.4 795.5,714.8 796.9,715.2 796.9,720.8 795.5,720.4 794.2,720.0" fill="#2ce8f0" stroke="#2ce8f0" stroke-width="0.3"/>
<polygon points="702.5,715.2 703.9,714.8 705.2,714.4 705.2,720.0 703.9,720.4 702.5,720.8" fill="#2ce8f0" stroke="#2ce8f0" stroke-width="0.3"/>
<polygon points="796.9,715.2 798.2,715.6 799.5,716.0 799.5,721.7 798.2,721.2 796.9,720.8" fill="#40f0a0" stroke="#40f0a0" stroke-width="0.3"/>
<polygon points="699.9,716.0 701.2,715.6 702.5,715.2 702.5,720.8 701.2,721.2 699.9,721.7" fill="#40f0a0" stroke="#40f0a0" stroke-width="0.3"/>
<polygon points="799.5,716.0 800.8,716.5 802.1,716.9 802.1,722.6 800.8,722.1 799.5,721.7" fill="#40f0a0" stroke="#40f0a0" stroke-width="0.3"/>
<polygon points="697.3,716.9 698.6,716.5 699.9,716.0 699.9,721.7 698.6,722.1 697.3,722.6" fill="#40f0a0" stroke="#40f0a0" stroke-width="0.3"/>
<polygon points="802.1,716.9 803.4,717.4 804.7,717.8 804.7,723.5 803.4,723.0 802.1,722.6" fill="#1cf030" stroke="#1cf030" stroke-width="0.3"/>
<polygon points="694.7,717.8 696.0,717.4 697.3,716.9 697.3,722.6 696.0,723.0 694.7,723.5" fill="#1cf030" stroke="#1cf030" stroke-width="0.3"/>
<polygon points="804.7,717.8 806.0,718.3 807.3,718.8 807.3,724.5 806.0,724.0 804.7,723.5" fill="#1cf030" stroke="#1cf030" stroke-width="0.3"/>
<polygon points="692.1,718.8 693.4,718.3 694.7,717.8 694.7,723.5 693.4,724.0 692.1,724.5" fill="#1cf030" stroke="#1cf030" stroke-width="0.3"/>
<polygon points="807.3,718.8 808.7,719.3 810.0,719.8 810.0,725.5 808.7,725.0 807.3,724.5" fill="#1cf030" stroke="#1cf030" stroke-width="0.3"/>
<polygon points="689.4,719.8 690.8,719.3 692.1,718.8 692.1,724.5 690.8,725.0 689.4,725.5" fill="#1cf030" stroke="#1cf030" stroke-width="0.3"/>
<polygon points="810.0,719.8 811.3,720.4 812.6,720.9 812.6,726.6 811.3,726.1 810.0,725.5" fill="#1cf030" stroke="#1cf030" stroke-width="0.3"/>
<polygon points="686.8,720.9 688.1,720.4 689.4,719.8 689.4,725.5 688.1,726.1 686.8,726.6" fill="#1cf030" stroke="#1cf030" stroke-width="0.3"/>
<polygon points="812.6,720.9 813.9,721.5 815.2,722.0 815.2,727.8 813.9,727.2 812.6,726.6" fill="#1cf030" stroke="#1cf030" stroke-width="0.3"/>
<polygon points="684.2,722.0 685.5,721.5 686.8,720.9 686.8,726.6 685.5,727.2 684.2,727.8" fill="#1cf030" stroke="#1cf030" stroke-width="0.3"/>
<polygon points="815.2,722.0 816.5,722.6 817.8,723.2 817.8,728.9 816.5,728.3 815.2,727.8" fill="#1cf030" stroke="#1cf030" stroke-width="0.3"/>
<polygon points="681.6,723.2 682.9,722.6 684.2,722.0 684.2,727.8 682.9,728.3 681.6,728.9" fill="#1cf030" stroke="#1cf030" stroke-width="0.3"/>
<polygon points="817.8,723.2 819.1,723.8 820.4,724.4 820.4,730.2 819.1,729.5 817.8,728.9" fill="#1cf030" stroke="#1cf030" stroke-width="0.3"/>
<polygon points="679.0,724.4 680.3,723.8 681.6,723.2 681.6,728.9 680.3,729.5 679.0,730.2" fill="#1cf030" stroke="#1cf030" stroke-width="0.3"/>
<polygon points="820.4,724.4 821.8,725.0 823.1,725.6 823.1,731.4 821.8,730.8 820.4,730.2" fill="#1cf030" stroke="#1cf030" stroke-width="0.3"/>
<polygon points="676.3,725.6 677.7,725.0 679.0,724.4 679.0,730.2 677.7,730.8 676.3,731.4" fill="#1cf030" stroke="#1cf030" stroke-width="0.3"/>
<polygon points="823.1,725.6 824.0,726.1 825.0,726.6 825.0,732.4 824.0,731.9 823.1,731.4" fill="#1cf030" stroke="#1cf030" stroke-width="0.3"/>
<polygon points="674.4,726.6 675.4,726.1 676.3,725.6 676.3,731.4 675.4,731.9 674.4,732.4" fill="#1cf030" stroke="#1cf030" stroke-width="0.3"/>
<path d="M749.7 707.8V713.0M749.7 707.8V713.0M752.3 707.8V713.0M747.1 707.8V713.0M754.9 707.9V713.1M744.5 707.9V713.1M757.6 708.0V713.2M741.8 708.0V713.2M760.2 708.2V713.4M739.2 708.2V713.4M762.8 708.4V713.6M736.6 708.4V713.6M765.4 708.6V713.8M734.0 708.6V713.8M768.0 708.9V714.1M731.4 708.9V714.1M770.7 709.3V714.5M728.7 709.3V714.5M773.3 709.6V714.9M726.1 709.6V714.9M775.9 710.1V715.3M723.5 710.1V715.3M778.5 710.6V715.8M720.9 710.6V715.8M781.1 711.1V716.3M718.3 711.1V716.3M783.8 711.6V716.9M715.6 711.6V716.9M786.4 712.3V717.5M713.0 712.3V717.5M789.0 712.9V718.2M710.4 712.9V718.2M791.6 713.6V718.9M707.8 713.6V718.9M794.2 714.4V719.7M705.2 714.4V719.7M796.9 715.2V720.5M702.5 715.2V720.5M799.5 716.0V721.4M699.9 716.0V721.4M802.1 716.9V722.3M697.3 716.9V722.3M804.7 717.8V723.2M694.7 717.8V723.2M807.3 718.8V724.2M692.1 718.8V724.2M810.0 719.8V725.2M689.4 719.8V725.2M812.6 720.9V726.3M686.8 720.9V726.3M815.2 722.0V727.5M684.2 722.0V727.5M817.8 723.2V728.6M681.6 723.2V728.6M820.4 724.4V729.9M679.0 724.4V729.9M823.1 725.6V731.1M676.3 725.6V731.1" stroke="#0a4858" stroke-opacity="0.3" stroke-width="0.5" fill="none"/>
<path d="M674.90 726.60V662.20H824.50V707.00" fill="none" stroke="#7a7a7a" stroke-width="1.1"/>
<rect x="679.3" y="682.0" width="136.40" height="25.10" fill="#d2d2d2"/>
<line x1="750.5" y1="664.0" x2="750.5" y2="693.90" stroke="#000" stroke-width="2.9"/>
<polygon points="745.30,692.30 755.70,692.30 750.50,700.90" fill="#000"/>
<text x="762.0" y="688.3" font-size="25.2" class="i">F</text><text x="777.8" y="695.0" font-size="18.5">f</text>
<clipPath id="cl4"><polygon points="827.2,611.4 833.5,609.2 839.8,607.1 846.1,605.3 852.4,603.6 858.7,602.2 865.0,600.9 871.3,599.8 877.6,599.0 883.9,598.3 890.2,597.8 896.5,597.5 902.8,597.4 909.1,597.5 915.4,597.8 921.7,598.3 928.0,599.0 934.3,599.8 940.6,600.9 946.9,602.2 953.2,603.6 959.5,605.3 965.8,607.1 972.1,609.2 978.4,611.4 978.4,655.1 827.2,655.1"/></clipPath>
<linearGradient id="gg4" gradientUnits="userSpaceOnUse" x1="0" y1="597.4" x2="0" y2="655.1"><stop offset="0" stop-color="#006000"/><stop offset="0.3" stop-color="#008a00"/><stop offset="0.65" stop-color="#00a800"/><stop offset="1" stop-color="#0cc40c"/></linearGradient>
<g clip-path="url(#cl4)">
<rect x="827.2" y="590.4" width="151.20" height="64.70" fill="url(#gg4)"/>
<polygon points="827.2,622.2 833.5,620.0 839.8,617.9 846.1,616.1 852.4,614.4 858.7,613.0 865.0,611.7 871.3,610.6 877.6,609.8 883.9,609.1 890.2,608.6 896.5,608.3 902.8,608.2 909.1,608.3 915.4,608.6 921.7,609.1 928.0,609.8 934.3,610.6 940.6,611.7 946.9,613.0 953.2,614.4 959.5,616.1 965.8,617.9 972.1,620.0 978.4,622.2 978.4,588.4 827.2,588.4" fill="#001400" fill-opacity="0.2"/>
<polygon points="827.2,621.0 833.5,618.8 839.8,616.7 846.1,614.9 852.4,613.2 858.7,611.8 865.0,610.5 871.3,609.4 877.6,608.6 883.9,607.9 890.2,607.4 896.5,607.1 902.8,607.0 909.1,607.1 915.4,607.4 921.7,607.9 928.0,608.6 934.3,609.4 940.6,610.5 946.9,611.8 953.2,613.2 959.5,614.9 965.8,616.7 972.1,618.8 978.4,621.0 978.4,588.4 827.2,588.4" fill="#001400" fill-opacity="0.2"/>
<polygon points="827.2,619.8 833.5,617.6 839.8,615.5 846.1,613.7 852.4,612.0 858.7,610.6 865.0,609.3 871.3,608.2 877.6,607.4 883.9,606.7 890.2,606.2 896.5,605.9 902.8,605.8 909.1,605.9 915.4,606.2 921.7,606.7 928.0,607.4 934.3,608.2 940.6,609.3 946.9,610.6 953.2,612.0 959.5,613.7 965.8,615.5 972.1,617.6 978.4,619.8 978.4,588.4 827.2,588.4" fill="#001400" fill-opacity="0.2"/>
<polygon points="827.2,618.6 833.5,616.4 839.8,614.3 846.1,612.5 852.4,610.8 858.7,609.4 865.0,608.1 871.3,607.0 877.6,606.2 883.9,605.5 890.2,605.0 896.5,604.7 902.8,604.6 909.1,604.7 915.4,605.0 921.7,605.5 928.0,606.2 934.3,607.0 940.6,608.1 946.9,609.4 953.2,610.8 959.5,612.5 965.8,614.3 972.1,616.4 978.4,618.6 978.4,588.4 827.2,588.4" fill="#001400" fill-opacity="0.2"/>
<polygon points="827.2,617.4 833.5,615.2 839.8,613.1 846.1,611.3 852.4,609.6 858.7,608.2 865.0,606.9 871.3,605.8 877.6,605.0 883.9,604.3 890.2,603.8 896.5,603.5 902.8,603.4 909.1,603.5 915.4,603.8 921.7,604.3 928.0,605.0 934.3,605.8 940.6,606.9 946.9,608.2 953.2,609.6 959.5,611.3 965.8,613.1 972.1,615.2 978.4,617.4 978.4,588.4 827.2,588.4" fill="#001400" fill-opacity="0.2"/>
<polygon points="827.2,616.2 833.5,614.0 839.8,611.9 846.1,610.1 852.4,608.4 858.7,607.0 865.0,605.7 871.3,604.6 877.6,603.8 883.9,603.1 890.2,602.6 896.5,602.3 902.8,602.2 909.1,602.3 915.4,602.6 921.7,603.1 928.0,603.8 934.3,604.6 940.6,605.7 946.9,607.0 953.2,608.4 959.5,610.1 965.8,611.9 972.1,614.0 978.4,616.2 978.4,588.4 827.2,588.4" fill="#001400" fill-opacity="0.2"/>
<polygon points="827.2,615.0 833.5,612.8 839.8,610.7 846.1,608.9 852.4,607.2 858.7,605.8 865.0,604.5 871.3,603.4 877.6,602.6 883.9,601.9 890.2,601.4 896.5,601.1 902.8,601.0 909.1,601.1 915.4,601.4 921.7,601.9 928.0,602.6 934.3,603.4 940.6,604.5 946.9,605.8 953.2,607.2 959.5,608.9 965.8,610.7 972.1,612.8 978.4,615.0 978.4,588.4 827.2,588.4" fill="#001400" fill-opacity="0.2"/>
<polygon points="827.2,613.8 833.5,611.6 839.8,609.5 846.1,607.7 852.4,606.0 858.7,604.6 865.0,603.3 871.3,602.2 877.6,601.4 883.9,600.7 890.2,600.2 896.5,599.9 902.8,599.8 909.1,599.9 915.4,600.2 921.7,600.7 928.0,601.4 934.3,602.2 940.6,603.3 946.9,604.6 953.2,606.0 959.5,607.7 965.8,609.5 972.1,611.6 978.4,613.8 978.4,588.4 827.2,588.4" fill="#001400" fill-opacity="0.2"/>
<polygon points="827.2,612.6 833.5,610.4 839.8,608.3 846.1,606.5 852.4,604.8 858.7,603.4 865.0,602.1 871.3,601.0 877.6,600.2 883.9,599.5 890.2,599.0 896.5,598.7 902.8,598.6 909.1,598.7 915.4,599.0 921.7,599.5 928.0,600.2 934.3,601.0 940.6,602.1 946.9,603.4 953.2,604.8 959.5,606.5 965.8,608.3 972.1,610.4 978.4,612.6 978.4,588.4 827.2,588.4" fill="#001400" fill-opacity="0.2"/>
<ellipse cx="902.8" cy="598.4" rx="28.7" ry="9.2" fill="#005858" fill-opacity="0.35"/>
<path d="M827.2 612.0Q902.8 584.8 978.4 612.0M827.2 612.3Q902.8 585.5 978.4 612.3M827.2 612.7Q902.8 586.5 978.4 612.7M827.2 613.3Q902.8 587.7 978.4 613.3M827.2 614.0Q902.8 589.2 978.4 614.0M827.2 614.8Q902.8 591.0 978.4 614.8M827.2 615.8Q902.8 593.0 978.4 615.8M827.2 616.9Q902.8 595.3 978.4 616.9M827.2 618.1Q902.8 597.9 978.4 618.1M827.2 619.6Q902.8 600.6 978.4 619.6M827.2 621.1Q902.8 603.7 978.4 621.1M827.2 622.9Q902.8 606.9 978.4 622.9M827.2 624.8Q902.8 610.4 978.4 624.8M827.2 626.9Q902.8 614.1 978.4 626.9M827.2 629.2Q902.8 618.0 978.4 629.2M827.2 631.8Q902.8 622.0 978.4 631.8M827.2 634.5Q902.8 626.3 978.4 634.5M827.2 637.5Q902.8 630.7 978.4 637.5M827.2 640.8Q902.8 635.2 978.4 640.8M827.2 644.4Q902.8 639.8 978.4 644.4M827.2 648.2Q902.8 644.6 978.4 648.2M827.2 652.4Q902.8 649.4 978.4 652.4M827.2 657.0Q902.8 654.2 978.4 657.0M902.8 596.4L902.8 656.1M905.7 596.4L907.3 656.1M899.9 596.4L898.3 656.1M908.6 596.4L911.8 656.1M897.0 596.4L893.8 656.1M911.5 596.4L916.3 656.1M894.1 596.4L889.3 656.1M914.4 596.4L920.8 656.1M891.2 596.4L884.8 656.1M917.3 596.4L925.3 656.1M888.3 596.4L880.3 656.1M920.2 596.4L929.8 656.1M885.4 596.4L875.8 656.1M923.1 596.4L934.3 656.1M882.5 596.4L871.3 656.1M926.0 596.4L938.8 656.1M879.6 596.4L866.8 656.1M928.9 596.4L943.3 656.1M876.7 596.4L862.3 656.1M931.8 596.4L947.8 656.1M873.8 596.4L857.8 656.1M934.7 596.4L952.3 656.1M870.9 596.4L853.3 656.1M937.6 596.4L956.8 656.1M868.0 596.4L848.8 656.1M940.5 596.4L961.3 656.1M865.1 596.4L844.3 656.1M943.4 596.4L965.8 656.1M862.2 596.4L839.8 656.1M946.3 596.4L970.3 656.1M859.3 596.4L835.3 656.1M949.2 596.4L974.8 656.1M856.4 596.4L830.8 656.1M952.1 596.4L979.3 656.1M853.5 596.4L826.3 656.1M955.0 596.4L983.8 656.1M850.6 596.4L821.8 656.1M957.9 596.4L988.3 656.1M847.7 596.4L817.3 656.1M960.8 596.4L992.8 656.1M844.8 596.4L812.8 656.1M963.7 596.4L997.3 656.1M841.9 596.4L808.3 656.1M966.6 596.4L1001.8 656.1M839.0 596.4L803.8 656.1M969.5 596.4L1006.3 656.1M836.1 596.4L799.3 656.1M972.4 596.4L1010.8 656.1M833.2 596.4L794.8 656.1M975.3 596.4L1015.3 656.1M830.3 596.4L790.3 656.1M978.2 596.4L1019.8 656.1M827.4 596.4L785.8 656.1M981.1 596.4L1024.3 656.1M824.5 596.4L781.3 656.1M984.0 596.4L1028.8 656.1M821.6 596.4L776.8 656.1M986.9 596.4L1033.3 656.1M818.7 596.4L772.3 656.1M989.8 596.4L1037.8 656.1M815.8 596.4L767.8 656.1M992.7 596.4L1042.3 656.1M812.9 596.4L763.3 656.1M995.6 596.4L1046.8 656.1M810.0 596.4L758.8 656.1" fill="none" stroke="#004800" stroke-width="0.5"/>
</g>
<polygon points="902.8,590.4 904.1,590.4 905.3,590.4 905.3,597.7 904.1,597.7 902.8,597.7" fill="#0a14e6" stroke="#0a14e6" stroke-width="0.3"/>
<polygon points="900.3,590.4 901.5,590.4 902.8,590.4 902.8,597.7 901.5,597.7 900.3,597.7" fill="#0a14e6" stroke="#0a14e6" stroke-width="0.3"/>
<polygon points="905.3,590.4 906.6,590.4 907.9,590.5 907.9,597.8 906.6,597.7 905.3,597.7" fill="#0a14e6" stroke="#0a14e6" stroke-width="0.3"/>
<polygon points="897.7,590.5 899.0,590.4 900.3,590.4 900.3,597.7 899.0,597.7 897.7,597.8" fill="#0a14e6" stroke="#0a14e6" stroke-width="0.3"/>
<polygon points="907.9,590.5 909.1,590.5 910.4,590.5 910.4,597.8 909.1,597.8 907.9,597.8" fill="#0a14e6" stroke="#0a14e6" stroke-width="0.3"/>
<polygon points="895.2,590.5 896.4,590.5 897.7,590.5 897.7,597.8 896.4,597.8 895.2,597.8" fill="#0a14e6" stroke="#0a14e6" stroke-width="0.3"/>
<polygon points="910.4,590.5 911.7,590.6 913.0,590.6 913.0,598.0 911.7,597.9 910.4,597.8" fill="#0a14e6" stroke="#0a14e6" stroke-width="0.3"/>
<polygon points="892.6,590.6 893.9,590.6 895.2,590.5 895.2,597.8 893.9,597.9 892.6,598.0" fill="#0a14e6" stroke="#0a14e6" stroke-width="0.3"/>
<polygon points="913.0,590.6 914.2,590.7 915.5,590.8 915.5,598.1 914.2,598.0 913.0,598.0" fill="#2a84ff" stroke="#2a84ff" stroke-width="0.3"/>
<polygon points="890.1,590.8 891.4,590.7 892.6,590.6 892.6,598.0 891.4,598.0 890.1,598.1" fill="#2a84ff" stroke="#2a84ff" stroke-width="0.3"/>
<polygon points="915.5,590.8 916.8,590.9 918.0,591.0 918.0,598.3 916.8,598.2 915.5,598.1" fill="#2a84ff" stroke="#2a84ff" stroke-width="0.3"/>
<polygon points="887.6,591.0 888.8,590.9 890.1,590.8 890.1,598.1 888.8,598.2 887.6,598.3" fill="#2a84ff" stroke="#2a84ff" stroke-width="0.3"/>
<polygon points="918.0,591.0 919.3,591.0 920.6,591.2 920.6,598.5 919.3,598.4 918.0,598.3" fill="#38b8ff" stroke="#38b8ff" stroke-width="0.3"/>
<polygon points="885.0,591.2 886.3,591.0 887.6,591.0 887.6,598.3 886.3,598.4 885.0,598.5" fill="#38b8ff" stroke="#38b8ff" stroke-width="0.3"/>
<polygon points="920.6,591.2 921.8,591.3 923.1,591.4 923.1,598.7 921.8,598.6 920.6,598.5" fill="#38b8ff" stroke="#38b8ff" stroke-width="0.3"/>
<polygon points="882.5,591.4 883.8,591.3 885.0,591.2 885.0,598.5 883.8,598.6 882.5,598.7" fill="#38b8ff" stroke="#38b8ff" stroke-width="0.3"/>
<polygon points="923.1,591.4 924.4,591.5 925.7,591.6 925.7,599.0 924.4,598.8 923.1,598.7" fill="#38b8ff" stroke="#38b8ff" stroke-width="0.3"/>
<polygon points="879.9,591.6 881.2,591.5 882.5,591.4 882.5,598.7 881.2,598.8 879.9,599.0" fill="#38b8ff" stroke="#38b8ff" stroke-width="0.3"/>
<polygon points="925.7,591.6 926.9,591.8 928.2,591.9 928.2,599.3 926.9,599.1 925.7,599.0" fill="#38b8ff" stroke="#38b8ff" stroke-width="0.3"/>
<polygon points="877.4,591.9 878.7,591.8 879.9,591.6 879.9,599.0 878.7,599.1 877.4,599.3" fill="#38b8ff" stroke="#38b8ff" stroke-width="0.3"/>
<polygon points="928.2,591.9 929.5,592.1 930.7,592.3 930.7,599.6 929.5,599.4 928.2,599.3" fill="#38b8ff" stroke="#38b8ff" stroke-width="0.3"/>
<polygon points="874.9,592.3 876.1,592.1 877.4,591.9 877.4,599.3 876.1,599.4 874.9,599.6" fill="#38b8ff" stroke="#38b8ff" stroke-width="0.3"/>
<polygon points="930.7,592.3 932.0,592.4 933.3,592.6 933.3,600.0 932.0,599.8 930.7,599.6" fill="#2cdcf8" stroke="#2cdcf8" stroke-width="0.3"/>
<polygon points="872.3,592.6 873.6,592.4 874.9,592.3 874.9,599.6 873.6,599.8 872.3,600.0" fill="#2cdcf8" stroke="#2cdcf8" stroke-width="0.3"/>
<polygon points="933.3,592.6 934.5,592.8 935.8,593.0 935.8,600.4 934.5,600.2 933.3,600.0" fill="#2cdcf8" stroke="#2cdcf8" stroke-width="0.3"/>
<polygon points="869.8,593.0 871.0,592.8 872.3,592.6 872.3,600.0 871.0,600.2 869.8,600.4" fill="#2cdcf8" stroke="#2cdcf8" stroke-width="0.3"/>
<polygon points="935.8,593.0 937.1,593.2 938.4,593.4 938.4,600.8 937.1,600.6 935.8,600.4" fill="#2cdcf8" stroke="#2cdcf8" stroke-width="0.3"/>
<polygon points="867.2,593.4 868.5,593.2 869.8,593.0 869.8,600.4 868.5,600.6 867.2,600.8" fill="#2cdcf8" stroke="#2cdcf8" stroke-width="0.3"/>
<polygon points="938.4,593.4 939.6,593.6 940.9,593.9 940.9,601.3 939.6,601.0 938.4,600.8" fill="#2cdcf8" stroke="#2cdcf8" stroke-width="0.3"/>
<polygon points="864.7,593.9 866.0,593.6 867.2,593.4 867.2,600.8 866.0,601.0 864.7,601.3" fill="#2cdcf8" stroke="#2cdcf8" stroke-width="0.3"/>
<polygon points="940.9,593.9 942.2,594.1 943.4,594.3 943.4,601.8 942.2,601.5 940.9,601.3" fill="#2cdcf8" stroke="#2cdcf8" stroke-width="0.3"/>
<polygon points="862.2,594.3 863.4,594.1 864.7,593.9 864.7,601.3 863.4,601.5 862.2,601.8" fill="#2cdcf8" stroke="#2cdcf8" stroke-width="0.3"/>
<polygon points="943.4,594.3 944.7,594.6 946.0,594.8 946.0,602.3 944.7,602.0 943.4,601.8" fill="#2cdcf8" stroke="#2cdcf8" stroke-width="0.3"/>
<polygon points="859.6,594.8 860.9,594.6 862.2,594.3 862.2,601.8 860.9,602.0 859.6,602.3" fill="#2cdcf8" stroke="#2cdcf8" stroke-width="0.3"/>
<polygon points="946.0,594.8 947.2,595.1 948.5,595.4 948.5,602.8 947.2,602.5 946.0,602.3" fill="#2cdcf8" stroke="#2cdcf8" stroke-width="0.3"/>
<polygon points="857.1,595.4 858.3,595.1 859.6,594.8 859.6,602.3 858.3,602.5 857.1,602.8" fill="#2cdcf8" stroke="#2cdcf8" stroke-width="0.3"/>
<polygon points="948.5,595.4 949.8,595.7 951.1,595.9 951.1,603.4 949.8,603.1 948.5,602.8" fill="#2cdcf8" stroke="#2cdcf8" stroke-width="0.3"/>
<polygon points="854.5,595.9 855.8,595.7 857.1,595.4 857.1,602.8 855.8,603.1 854.5,603.4" fill="#2cdcf8" stroke="#2cdcf8" stroke-width="0.3"/>
<polygon points="951.1,595.9 952.3,596.2 953.6,596.5 953.6,604.0 952.3,603.7 951.1,603.4" fill="#34ecd8" stroke="#34ecd8" stroke-width="0.3"/>
<polygon points="852.0,596.5 853.3,596.2 854.5,595.9 854.5,603.4 853.3,603.7 852.0,604.0" fill="#34ecd8" stroke="#34ecd8" stroke-width="0.3"/>
<polygon points="953.6,596.5 954.9,596.9 956.1,597.2 956.1,604.7 954.9,604.4 953.6,604.0" fill="#34ecd8" stroke="#34ecd8" stroke-width="0.3"/>
<polygon points="849.5,597.2 850.7,596.9 852.0,596.5 852.0,604.0 850.7,604.4 849.5,604.7" fill="#34ecd8" stroke="#34ecd8" stroke-width="0.3"/>
<polygon points="956.1,597.2 957.4,597.5 958.7,597.8 958.7,605.4 957.4,605.0 956.1,604.7" fill="#34ecd8" stroke="#34ecd8" stroke-width="0.3"/>
<polygon points="846.9,597.8 848.2,597.5 849.5,597.2 849.5,604.7 848.2,605.0 846.9,605.4" fill="#34ecd8" stroke="#34ecd8" stroke-width="0.3"/>
<polygon points="958.7,597.8 959.9,598.2 961.2,598.5 961.2,606.1 959.9,605.7 958.7,605.4" fill="#34ecd8" stroke="#34ecd8" stroke-width="0.3"/>
<polygon points="844.4,598.5 845.6,598.2 846.9,597.8 846.9,605.4 845.6,605.7 844.4,606.1" fill="#34ecd8" stroke="#34ecd8" stroke-width="0.3"/>
<polygon points="961.2,598.5 962.5,598.9 963.8,599.2 963.8,606.8 962.5,606.4 961.2,606.1" fill="#34ecd8" stroke="#34ecd8" stroke-width="0.3"/>
<polygon points="841.8,599.2 843.1,598.9 844.4,598.5 844.4,606.1 843.1,606.4 841.8,606.8" fill="#34ecd8" stroke="#34ecd8" stroke-width="0.3"/>
<polygon points="963.8,599.2 965.0,599.6 966.3,600.0 966.3,607.6 965.0,607.2 963.8,606.8" fill="#34ecd8" stroke="#34ecd8" stroke-width="0.3"/>
<polygon points="839.3,600.0 840.6,599.6 841.8,599.2 841.8,606.8 840.6,607.2 839.3,607.6" fill="#34ecd8" stroke="#34ecd8" stroke-width="0.3"/>
<polygon points="966.3,600.0 967.6,600.4 968.8,600.8 968.8,608.4 967.6,608.0 966.3,607.6" fill="#20ee30" stroke="#20ee30" stroke-width="0.3"/>
<polygon points="836.8,600.8 838.0,600.4 839.3,600.0 839.3,607.6 838.0,608.0 836.8,608.4" fill="#20ee30" stroke="#20ee30" stroke-width="0.3"/>
<polygon points="968.8,600.8 970.1,601.2 971.4,601.6 971.4,609.2 970.1,608.8 968.8,608.4" fill="#20ee30" stroke="#20ee30" stroke-width="0.3"/>
<polygon points="834.2,601.6 835.5,601.2 836.8,600.8 836.8,608.4 835.5,608.8 834.2,609.2" fill="#20ee30" stroke="#20ee30" stroke-width="0.3"/>
<polygon points="971.4,601.6 972.6,602.0 973.9,602.4 973.9,610.1 972.6,609.7 971.4,609.2" fill="#20ee30" stroke="#20ee30" stroke-width="0.3"/>
<polygon points="831.7,602.4 832.9,602.0 834.2,601.6 834.2,609.2 832.9,609.7 831.7,610.1" fill="#20ee30" stroke="#20ee30" stroke-width="0.3"/>
<polygon points="973.9,602.4 975.2,602.9 976.5,603.3 976.5,611.0 975.2,610.6 973.9,610.1" fill="#20ee30" stroke="#20ee30" stroke-width="0.3"/>
<polygon points="829.1,603.3 830.4,602.9 831.7,602.4 831.7,610.1 830.4,610.6 829.1,611.0" fill="#20ee30" stroke="#20ee30" stroke-width="0.3"/>
<polygon points="976.5,603.3 977.4,603.7 978.4,604.0 978.4,611.7 977.4,611.4 976.5,611.0" fill="#20ee30" stroke="#20ee30" stroke-width="0.3"/>
<polygon points="827.2,604.0 828.2,603.7 829.1,603.3 829.1,611.0 828.2,611.4 827.2,611.7" fill="#20ee30" stroke="#20ee30" stroke-width="0.3"/>
<path d="M902.8 590.4V597.4M902.8 590.4V597.4M905.3 590.4V597.4M900.3 590.4V597.4M907.9 590.5V597.5M897.7 590.5V597.5M910.4 590.5V597.5M895.2 590.5V597.5M913.0 590.6V597.7M892.6 590.6V597.7M915.5 590.8V597.8M890.1 590.8V597.8M918.0 591.0V598.0M887.6 591.0V598.0M920.6 591.2V598.2M885.0 591.2V598.2M923.1 591.4V598.4M882.5 591.4V598.4M925.7 591.6V598.7M879.9 591.6V598.7M928.2 591.9V599.0M877.4 591.9V599.0M930.7 592.3V599.3M874.9 592.3V599.3M933.3 592.6V599.7M872.3 592.6V599.7M935.8 593.0V600.1M869.8 593.0V600.1M938.4 593.4V600.5M867.2 593.4V600.5M940.9 593.9V601.0M864.7 593.9V601.0M943.4 594.3V601.5M862.2 594.3V601.5M946.0 594.8V602.0M859.6 594.8V602.0M948.5 595.4V602.5M857.1 595.4V602.5M951.1 595.9V603.1M854.5 595.9V603.1M953.6 596.5V603.7M852.0 596.5V603.7M956.1 597.2V604.4M849.5 597.2V604.4M958.7 597.8V605.1M846.9 597.8V605.1M961.2 598.5V605.8M844.4 598.5V605.8M963.8 599.2V606.5M841.8 599.2V606.5M966.3 600.0V607.3M839.3 600.0V607.3M968.8 600.8V608.1M836.8 600.8V608.1M971.4 601.6V608.9M834.2 601.6V608.9M973.9 602.4V609.8M831.7 602.4V609.8M976.5 603.3V610.7M829.1 603.3V610.7" stroke="#0a4858" stroke-opacity="0.3" stroke-width="0.5" fill="none"/>
<path d="M827.70 604.00V542.20H977.90V590.00" fill="none" stroke="#7a7a7a" stroke-width="1.1"/>
<line x1="902.7" y1="553.0" x2="902.7" y2="582.40" stroke="#000" stroke-width="2.9"/>
<polygon points="897.50,580.80 907.90,580.80 902.70,589.40" fill="#000"/>
<text x="913.4" y="573.2" font-size="25.2" class="i">F</text><text x="929.4" y="579.6" font-size="18.5">b</text>
<line x1="211.00" y1="706.60" x2="306.02" y2="769.17" stroke="#000" stroke-width="1.05"/>
<polygon points="313.20,773.90 302.71,772.38 307.66,764.86" fill="#000"/>
<line x1="384.30" y1="738.90" x2="325.78" y2="797.51" stroke="#000" stroke-width="1.05"/>
<polygon points="319.70,803.60 323.30,793.63 329.67,799.99" fill="#000"/>
<line x1="827.40" y1="778.70" x2="890.35" y2="900.36" stroke="#000" stroke-width="1.05"/>
<polygon points="894.30,908.00 885.89,901.54 893.89,897.41" fill="#000"/>
<line x1="908.60" y1="658.70" x2="904.95" y2="868.60" stroke="#000" stroke-width="1.05"/>
<polygon points="904.80,877.20 900.47,867.52 909.47,867.68" fill="#000"/>
<path transform="translate(895,795) scale(0.1)" d="M960 205L925 188L900 170L860 158L835 166L822 190L826 232L832 300L838 380L835 440L822 478L797 497L760 490L700 455L620 420L540 400L470 395L400 410L320 435L240 470L180 510L145 550L143 572L160 580L165 605L195 612L210 632L260 628L320 615L350 620L365 650L362 690L380 715L410 725L420 760L440 810L450 870L455 950L460 1030L470 1080L495 1110L520 1116L545 1106L590 1104L586 1090L540 1080L505 1068L490 1030L485 960L485 880L490 840L520 800L550 750L580 710L600 680L680 665L750 645L790 610L840 570L870 530L885 480L886 420L880 350L870 280L870 238L885 217L920 209Z" fill="#000"/>
<filter id="bl" x="-10%" y="-10%" width="120%" height="120%"><feGaussianBlur stdDeviation="3.2"/></filter>
<filter id="bl2" x="-60%" y="-60%" width="220%" height="220%"><feGaussianBlur stdDeviation="9"/></filter>
<g transform="translate(270,620) scale(0.12)"><g filter="url(#bl)">
<path d="M560 95L575 86L590 140L600 172L630 132L650 124L656 146L626 176L606 212L596 252L560 272L534 236L546 224L566 214L568 160Z" fill="#6f5250"/>
<path d="M552 636L600 646L608 700L600 760L614 800L604 850L590 900L580 960L570 1020L562 1078L516 1078L514 1000L526 920L534 850L538 780L534 710L542 660Z" fill="#75564f"/>
<path d="M566 700L594 760L588 830L574 900L560 980L546 1040L548 950L556 860L562 780Z" fill="#a58a82" fill-opacity="0.7"/>
<path d="M236 884L98 1053L90 1046L222 880Z" fill="#2e2a2a"/>
<path d="M362 668L450 690L382 735L339 785L256 890L214 886L275 797Z" fill="#3a7ba4"/>
<path d="M440 696L566 640L530 690L452 770L420 772Z" fill="#6b8c3e"/>
<path d="M450 688L488 704L422 778L362 834L348 816L400 742Z" fill="#2b2118"/>
<linearGradient id="bb" gradientUnits="userSpaceOnUse" x1="700" y1="300" x2="390" y2="700"><stop offset="0" stop-color="#9ea42e"/><stop offset="0.4" stop-color="#7f9a38"/><stop offset="0.68" stop-color="#5e8e56"/><stop offset="0.88" stop-color="#47888e"/><stop offset="1" stop-color="#3a7aa8"/></linearGradient>
<path d="M578 268C520 330 470 420 438 492C400 580 372 640 354 686L446 708C500 692 560 652 600 626C650 560 690 470 716 380C726 350 732 320 728 296Z" fill="url(#bb)"/>
<path d="M730 330C732 400 706 490 664 566C650 590 626 612 600 622C636 540 660 450 668 350Z" fill="#e6bb22" filter="url(#bl2)"/>
<path d="M470 440C430 520 395 600 362 684L400 694C430 620 470 530 500 470Z" fill="#3f7fa4" fill-opacity="0.4"/>
<circle cx="662" cy="264" r="66" fill="#aaa42a"/>
<ellipse cx="652" cy="226" rx="52" ry="26" fill="#c39b1e"/>
<ellipse cx="704" cy="322" rx="36" ry="30" fill="#d6691c" filter="url(#bl2)"/>
<ellipse cx="704" cy="320" rx="26" ry="20" fill="#d6691c"/>
<path d="M608 284L640 264L700 242L748 226L754 248L700 266L650 288L624 300Z" fill="#15120f"/>
<path d="M732 226Q812 200 890 212Q812 226 746 260Z" fill="#15120f"/>
<path d="M556 630L600 638L614 660L590 652L564 650Z" fill="#3a2a26"/>
</g></g>
</g>
<g id="panelC">
<line x1="220" y1="1236.5" x2="907.5" y2="1241.5" stroke="#000" stroke-width="1.9"/>
<circle cx="219.25" cy="1231.00" r="5.65" fill="none" stroke="#000" stroke-width="1.7"/>
<circle cx="245.75" cy="1235.00" r="5.65" fill="none" stroke="#000" stroke-width="1.7"/>
<circle cx="265.25" cy="1265.75" r="5.65" fill="none" stroke="#000" stroke-width="1.7"/>
<circle cx="280.75" cy="1248.00" r="5.65" fill="none" stroke="#000" stroke-width="1.7"/>
<circle cx="317.50" cy="1234.00" r="5.65" fill="none" stroke="#000" stroke-width="1.7"/>
<circle cx="327.75" cy="1233.50" r="5.65" fill="none" stroke="#000" stroke-width="1.7"/>
<circle cx="327.50" cy="1246.50" r="5.65" fill="none" stroke="#000" stroke-width="1.7"/>
<circle cx="327.50" cy="1251.00" r="5.65" fill="none" stroke="#000" stroke-width="1.7"/>
<circle cx="380.50" cy="1240.75" r="5.65" fill="none" stroke="#000" stroke-width="1.7"/>
<circle cx="400.00" cy="1216.50" r="5.65" fill="none" stroke="#000" stroke-width="1.7"/>
<circle cx="425.75" cy="1232.00" r="5.65" fill="none" stroke="#000" stroke-width="1.7"/>
<circle cx="450.00" cy="1237.50" r="5.65" fill="none" stroke="#000" stroke-width="1.7"/>
<circle cx="477.00" cy="1223.25" r="5.65" fill="none" stroke="#000" stroke-width="1.7"/>
<circle cx="505.50" cy="1224.00" r="5.65" fill="none" stroke="#000" stroke-width="1.7"/>
<circle cx="513.00" cy="1271.50" r="5.65" fill="none" stroke="#000" stroke-width="1.7"/>
<circle cx="516.25" cy="1249.00" r="5.65" fill="none" stroke="#000" stroke-width="1.7"/>
<circle cx="536.50" cy="1229.60" r="5.65" fill="none" stroke="#000" stroke-width="1.7"/>
<circle cx="538.70" cy="1220.20" r="5.65" fill="none" stroke="#000" stroke-width="1.7"/>
<circle cx="539.00" cy="1250.80" r="5.65" fill="none" stroke="#000" stroke-width="1.7"/>
<circle cx="556.00" cy="1227.30" r="5.65" fill="none" stroke="#000" stroke-width="1.7"/>
<circle cx="559.20" cy="1238.40" r="5.65" fill="none" stroke="#000" stroke-width="1.7"/>
<circle cx="561.40" cy="1260.20" r="5.65" fill="none" stroke="#000" stroke-width="1.7"/>
<circle cx="569.00" cy="1198.40" r="5.65" fill="none" stroke="#000" stroke-width="1.7"/>
<circle cx="571.70" cy="1224.00" r="5.65" fill="none" stroke="#000" stroke-width="1.7"/>
<circle cx="579.00" cy="1238.20" r="5.65" fill="none" stroke="#000" stroke-width="1.7"/>
<circle cx="573.20" cy="1242.20" r="5.65" fill="none" stroke="#000" stroke-width="1.7"/>
<circle cx="572.40" cy="1246.60" r="5.65" fill="none" stroke="#000" stroke-width="1.7"/>
<circle cx="572.80" cy="1244.20" r="5.65" fill="none" stroke="#000" stroke-width="1.7"/>
<circle cx="627.00" cy="1236.75" r="5.65" fill="none" stroke="#000" stroke-width="1.7"/>
<circle cx="630.50" cy="1260.00" r="5.65" fill="none" stroke="#000" stroke-width="1.7"/>
<circle cx="638.00" cy="1233.00" r="5.65" fill="none" stroke="#000" stroke-width="1.7"/>
<circle cx="637.00" cy="1244.00" r="5.65" fill="none" stroke="#000" stroke-width="1.7"/>
<circle cx="645.50" cy="1264.00" r="5.65" fill="none" stroke="#000" stroke-width="1.7"/>
<circle cx="651.25" cy="1270.75" r="5.65" fill="none" stroke="#000" stroke-width="1.7"/>
<circle cx="661.50" cy="1218.00" r="5.65" fill="none" stroke="#000" stroke-width="1.7"/>
<circle cx="661.25" cy="1241.25" r="5.65" fill="none" stroke="#000" stroke-width="1.7"/>
<circle cx="663.75" cy="1269.50" r="5.65" fill="none" stroke="#000" stroke-width="1.7"/>
<circle cx="672.25" cy="1212.00" r="5.65" fill="none" stroke="#000" stroke-width="1.7"/>
<circle cx="693.00" cy="1250.75" r="5.65" fill="none" stroke="#000" stroke-width="1.7"/>
<circle cx="712.50" cy="1243.50" r="5.65" fill="none" stroke="#000" stroke-width="1.7"/>
<circle cx="853.75" cy="1212.50" r="5.65" fill="none" stroke="#000" stroke-width="1.7"/>
<circle cx="906.50" cy="1292.50" r="5.65" fill="none" stroke="#000" stroke-width="1.7"/>
<rect x="114.0" y="1003.9" width="876.50" height="412.90" fill="none" stroke="#000" stroke-width="2.2"/>
<line x1="135.90" y1="1416.8" x2="135.90" y2="1409.80" stroke="#000" stroke-width="2.0"/>
<line x1="152.89" y1="1416.8" x2="152.89" y2="1409.80" stroke="#000" stroke-width="2.0"/>
<line x1="166.77" y1="1416.8" x2="166.77" y2="1409.80" stroke="#000" stroke-width="2.0"/>
<line x1="178.51" y1="1416.8" x2="178.51" y2="1409.80" stroke="#000" stroke-width="2.0"/>
<line x1="188.67" y1="1416.8" x2="188.67" y2="1409.80" stroke="#000" stroke-width="2.0"/>
<line x1="197.64" y1="1416.8" x2="197.64" y2="1409.80" stroke="#000" stroke-width="2.0"/>
<line x1="205.66" y1="1416.8" x2="205.66" y2="1404.30" stroke="#000" stroke-width="2.0"/>
<line x1="258.43" y1="1416.8" x2="258.43" y2="1409.80" stroke="#000" stroke-width="2.0"/>
<line x1="289.30" y1="1416.8" x2="289.30" y2="1409.80" stroke="#000" stroke-width="2.0"/>
<line x1="311.20" y1="1416.8" x2="311.20" y2="1409.80" stroke="#000" stroke-width="2.0"/>
<line x1="328.19" y1="1416.8" x2="328.19" y2="1409.80" stroke="#000" stroke-width="2.0"/>
<line x1="342.07" y1="1416.8" x2="342.07" y2="1409.80" stroke="#000" stroke-width="2.0"/>
<line x1="353.81" y1="1416.8" x2="353.81" y2="1409.80" stroke="#000" stroke-width="2.0"/>
<line x1="363.97" y1="1416.8" x2="363.97" y2="1409.80" stroke="#000" stroke-width="2.0"/>
<line x1="372.94" y1="1416.8" x2="372.94" y2="1409.80" stroke="#000" stroke-width="2.0"/>
<line x1="380.96" y1="1416.8" x2="380.96" y2="1404.30" stroke="#000" stroke-width="2.0"/>
<line x1="433.73" y1="1416.8" x2="433.73" y2="1409.80" stroke="#000" stroke-width="2.0"/>
<line x1="464.60" y1="1416.8" x2="464.60" y2="1409.80" stroke="#000" stroke-width="2.0"/>
<line x1="486.50" y1="1416.8" x2="486.50" y2="1409.80" stroke="#000" stroke-width="2.0"/>
<line x1="503.49" y1="1416.8" x2="503.49" y2="1409.80" stroke="#000" stroke-width="2.0"/>
<line x1="517.37" y1="1416.8" x2="517.37" y2="1409.80" stroke="#000" stroke-width="2.0"/>
<line x1="529.11" y1="1416.8" x2="529.11" y2="1409.80" stroke="#000" stroke-width="2.0"/>
<line x1="539.27" y1="1416.8" x2="539.27" y2="1409.80" stroke="#000" stroke-width="2.0"/>
<line x1="548.24" y1="1416.8" x2="548.24" y2="1409.80" stroke="#000" stroke-width="2.0"/>
<line x1="556.26" y1="1416.8" x2="556.26" y2="1404.30" stroke="#000" stroke-width="2.0"/>
<line x1="609.03" y1="1416.8" x2="609.03" y2="1409.80" stroke="#000" stroke-width="2.0"/>
<line x1="639.90" y1="1416.8" x2="639.90" y2="1409.80" stroke="#000" stroke-width="2.0"/>
<line x1="661.80" y1="1416.8" x2="661.80" y2="1409.80" stroke="#000" stroke-width="2.0"/>
<line x1="678.79" y1="1416.8" x2="678.79" y2="1409.80" stroke="#000" stroke-width="2.0"/>
<line x1="692.67" y1="1416.8" x2="692.67" y2="1409.80" stroke="#000" stroke-width="2.0"/>
<line x1="704.41" y1="1416.8" x2="704.41" y2="1409.80" stroke="#000" stroke-width="2.0"/>
<line x1="714.57" y1="1416.8" x2="714.57" y2="1409.80" stroke="#000" stroke-width="2.0"/>
<line x1="723.54" y1="1416.8" x2="723.54" y2="1409.80" stroke="#000" stroke-width="2.0"/>
<line x1="731.56" y1="1416.8" x2="731.56" y2="1404.30" stroke="#000" stroke-width="2.0"/>
<line x1="784.33" y1="1416.8" x2="784.33" y2="1409.80" stroke="#000" stroke-width="2.0"/>
<line x1="815.20" y1="1416.8" x2="815.20" y2="1409.80" stroke="#000" stroke-width="2.0"/>
<line x1="837.10" y1="1416.8" x2="837.10" y2="1409.80" stroke="#000" stroke-width="2.0"/>
<line x1="854.09" y1="1416.8" x2="854.09" y2="1409.80" stroke="#000" stroke-width="2.0"/>
<line x1="867.97" y1="1416.8" x2="867.97" y2="1409.80" stroke="#000" stroke-width="2.0"/>
<line x1="879.71" y1="1416.8" x2="879.71" y2="1409.80" stroke="#000" stroke-width="2.0"/>
<line x1="889.87" y1="1416.8" x2="889.87" y2="1409.80" stroke="#000" stroke-width="2.0"/>
<line x1="898.84" y1="1416.8" x2="898.84" y2="1409.80" stroke="#000" stroke-width="2.0"/>
<line x1="906.86" y1="1416.8" x2="906.86" y2="1404.30" stroke="#000" stroke-width="2.0"/>
<line x1="959.63" y1="1416.8" x2="959.63" y2="1409.80" stroke="#000" stroke-width="2.0"/>
<text x="205.16" y="1452.20" font-size="29" text-anchor="middle">10</text>
<text x="380.46" y="1452.20" font-size="29" text-anchor="middle">100</text>
<text x="555.76" y="1452.20" font-size="29" text-anchor="middle">1,000</text>
<text x="731.06" y="1452.20" font-size="29" text-anchor="middle">10,000</text>
<text x="906.36" y="1452.20" font-size="29" text-anchor="middle">100,000</text>
<line x1="114.0" y1="1416.80" x2="126.50" y2="1416.80" stroke="#000" stroke-width="2.0"/>
<line x1="114.0" y1="1354.65" x2="121.00" y2="1354.65" stroke="#000" stroke-width="2.0"/>
<line x1="114.0" y1="1318.30" x2="121.00" y2="1318.30" stroke="#000" stroke-width="2.0"/>
<line x1="114.0" y1="1292.50" x2="121.00" y2="1292.50" stroke="#000" stroke-width="2.0"/>
<line x1="114.0" y1="1272.50" x2="121.00" y2="1272.50" stroke="#000" stroke-width="2.0"/>
<line x1="114.0" y1="1256.15" x2="121.00" y2="1256.15" stroke="#000" stroke-width="2.0"/>
<line x1="114.0" y1="1242.33" x2="121.00" y2="1242.33" stroke="#000" stroke-width="2.0"/>
<line x1="114.0" y1="1230.36" x2="121.00" y2="1230.36" stroke="#000" stroke-width="2.0"/>
<line x1="114.0" y1="1219.80" x2="121.00" y2="1219.80" stroke="#000" stroke-width="2.0"/>
<text x="99.80" y="1412.00" font-size="17" text-anchor="end">-3</text>
<text x="84.39" y="1427.80" font-size="29" text-anchor="end">10</text>
<line x1="114.0" y1="1210.35" x2="126.50" y2="1210.35" stroke="#000" stroke-width="2.0"/>
<line x1="114.0" y1="1148.20" x2="121.00" y2="1148.20" stroke="#000" stroke-width="2.0"/>
<line x1="114.0" y1="1111.85" x2="121.00" y2="1111.85" stroke="#000" stroke-width="2.0"/>
<line x1="114.0" y1="1086.05" x2="121.00" y2="1086.05" stroke="#000" stroke-width="2.0"/>
<line x1="114.0" y1="1066.05" x2="121.00" y2="1066.05" stroke="#000" stroke-width="2.0"/>
<line x1="114.0" y1="1049.70" x2="121.00" y2="1049.70" stroke="#000" stroke-width="2.0"/>
<line x1="114.0" y1="1035.88" x2="121.00" y2="1035.88" stroke="#000" stroke-width="2.0"/>
<line x1="114.0" y1="1023.91" x2="121.00" y2="1023.91" stroke="#000" stroke-width="2.0"/>
<line x1="114.0" y1="1013.35" x2="121.00" y2="1013.35" stroke="#000" stroke-width="2.0"/>
<text x="99.80" y="1205.55" font-size="17" text-anchor="end">-2</text>
<text x="84.39" y="1221.35" font-size="29" text-anchor="end">10</text>
<line x1="114.0" y1="1003.90" x2="126.50" y2="1003.90" stroke="#000" stroke-width="2.0"/>
<text x="99.80" y="999.10" font-size="17" text-anchor="end">-1</text>
<text x="84.39" y="1014.90" font-size="29" text-anchor="end">10</text>
<g transform="translate(25.7,1404.5) rotate(-90)"><text x="0" y="0" font-size="29" textLength="271" lengthAdjust="spacingAndGlyphs">Normalized strength,</text><text x="283.6" y="0" font-size="26" class="i" textLength="17.4" lengthAdjust="spacingAndGlyphs">σ</text><text x="297.3" y="11.3" font-size="17">f</text><text x="309.8" y="0" font-size="29">/</text><text x="320.2" y="0" font-size="29" class="i" textLength="24.2" lengthAdjust="spacingAndGlyphs">E</text></g>
<text x="8.2" y="1020.2" font-size="52" class="b">c</text>
<text x="552.3" y="1502.6" font-size="29.3" text-anchor="middle">Body mass, <tspan class="i">M</tspan> (g)</text>
<text x="216.8" y="1054.2" font-size="32.4" class="i" textLength="17" lengthAdjust="spacingAndGlyphs">σ</text><text x="232.4" y="1067.4" font-size="20">f</text>
<text x="246.4" y="1054.2" font-size="32.4">/</text><text x="257.4" y="1054.2" font-size="32.4" class="i" textLength="25.6" lengthAdjust="spacingAndGlyphs">E</text>
<text transform="translate(284.6,1057.2) scale(1.15,1)" font-size="31">∝</text>
<text x="319.4" y="1054.2" font-size="32.4" class="i" textLength="32" lengthAdjust="spacingAndGlyphs">M</text>
<text x="357" y="1037.8" font-size="18" class="b">-0.006</text>
<path transform="translate(150,1205) scale(0.06)" d="M780 270L720 225L660 205L600 210L545 235L510 275L480 330L440 385L400 450L360 540L320 640L300 740L300 780L260 870L215 970L190 1060L185 1120L215 1142L270 1132L320 1116L350 1090L375 1020L400 930L430 865L480 835L520 820L560 850L605 885L615 932L630 932L640 897L680 892L686 876L660 860L625 870L580 830L550 795L600 740L650 650L690 560L715 480L705 420L700 370L720 320L745 290Z" fill="#000"/>
<path transform="translate(815,1100) scale(0.09)" d="M875 200L840 180L815 150L785 138L745 150L715 180L700 220L705 270L720 310L725 350L710 375L670 340L610 290L540 255L460 242L380 248L300 270L230 305L175 355L140 410L125 465L130 500L150 530L175 535L200 515L235 500L270 505L295 520L310 550L290 590L265 640L250 710L238 790L220 825L225 845L265 858L325 855L330 840L285 828L270 800L280 740L300 670L330 625L380 590L430 575L445 580L450 640L470 690L500 760L520 820L535 845L575 860L635 852L640 838L590 828L560 810L535 740L515 670L515 600L525 580L560 575L610 550L660 530L720 515L760 480L780 430L790 370L790 310L775 260L790 230L820 212Z" fill="#000"/>
<path transform="translate(881.07,1288.1) scale(0.0892)" d="M960 205L925 188L900 170L860 158L835 166L822 190L826 232L832 300L838 380L835 440L822 478L797 497L760 490L700 455L620 420L540 400L470 395L400 410L320 435L240 470L180 510L145 550L143 572L160 580L165 605L195 612L210 632L260 628L320 615L350 620L365 650L362 690L380 715L410 725L420 760L440 810L450 870L455 950L460 1030L470 1080L495 1110L520 1116L545 1106L590 1104L586 1090L540 1080L505 1068L490 1030L485 960L485 880L490 840L520 800L550 750L580 710L600 680L680 665L750 645L790 610L840 570L870 530L885 480L886 420L880 350L870 280L870 238L885 217L920 209Z" fill="#000"/>
</g>
</svg></body></html>
